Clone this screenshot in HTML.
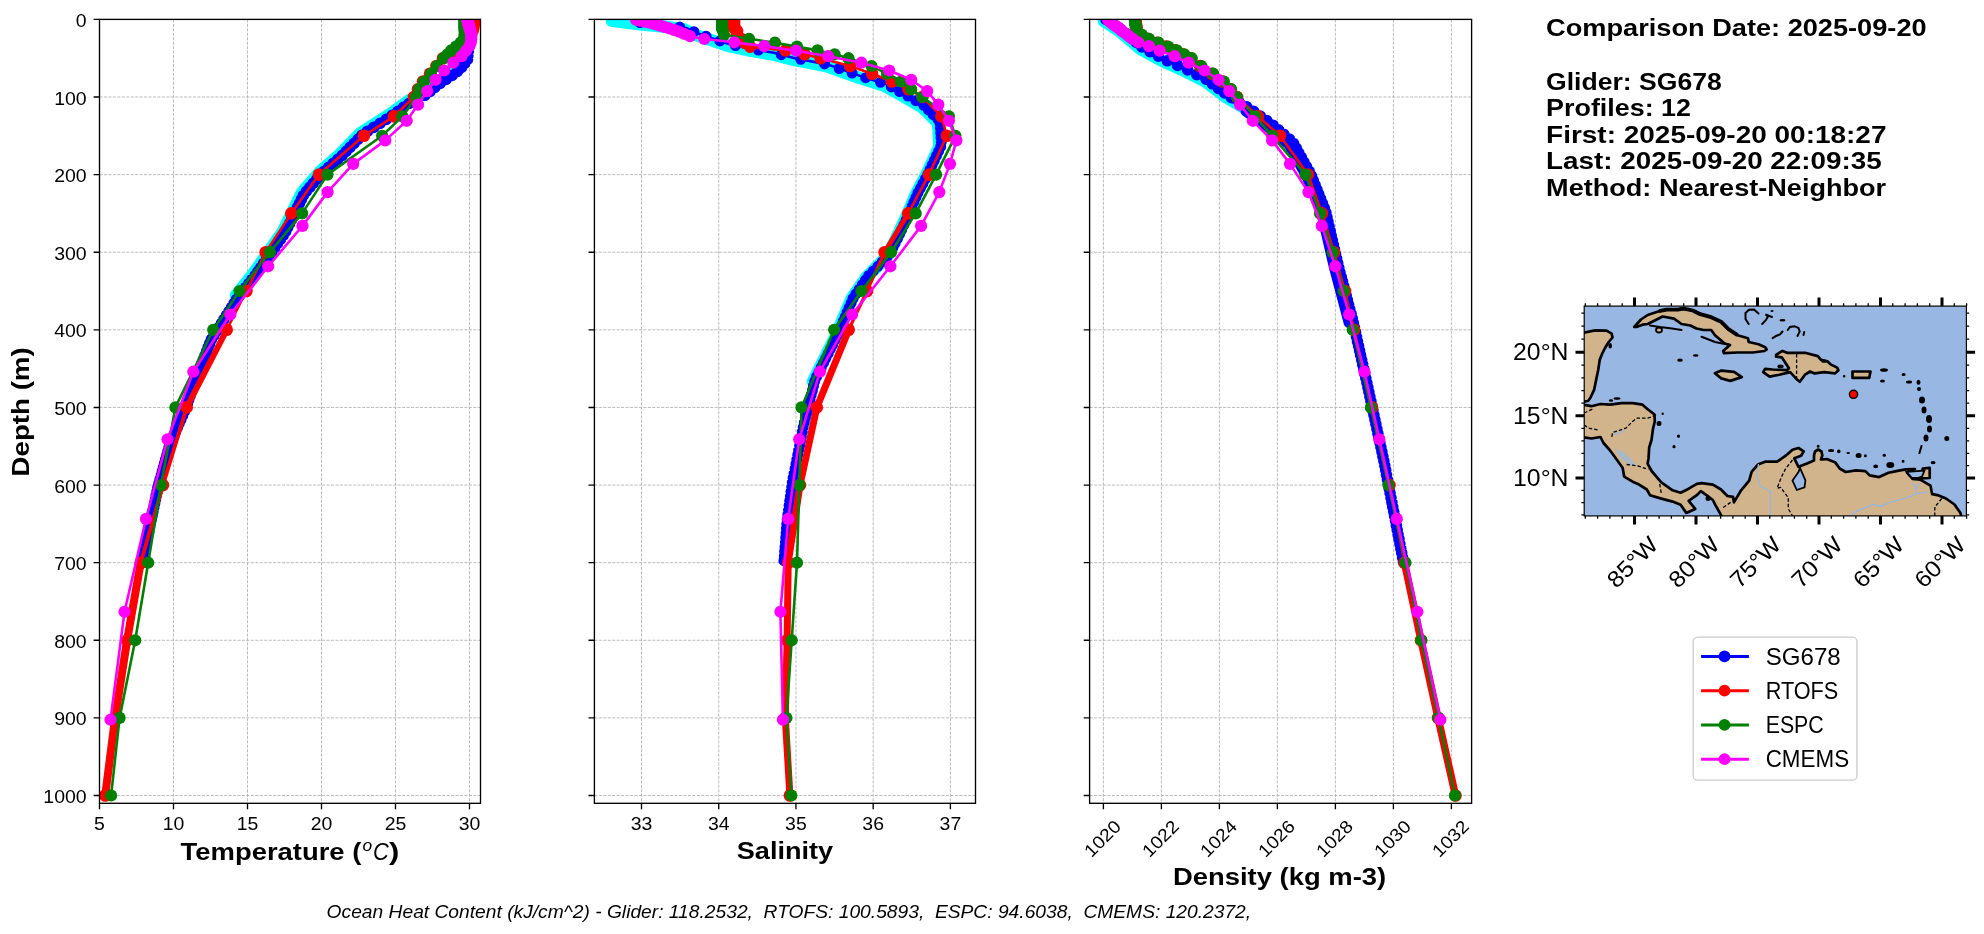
<!DOCTYPE html><html><head><meta charset="utf-8"><style>html,body{margin:0;padding:0;background:#fff;overflow:hidden}svg{display:block;will-change:transform}text{font-family:"Liberation Sans",sans-serif;fill:#000}</style></head><body>
<svg width="1984" height="934" viewBox="0 0 1984 934">
<rect width="1984" height="934" fill="#fff"/>
<defs>
<clipPath id="c0"><rect x="99.5" y="19.4" width="381.0" height="783.9"/></clipPath>
<clipPath id="c1"><rect x="594.4" y="19.4" width="381.1" height="783.9"/></clipPath>
<clipPath id="c2"><rect x="1089.6" y="19.4" width="382.0" height="783.9"/></clipPath>
</defs>
<path d="M99.50,19.4V803.3M173.50,19.4V803.3M247.50,19.4V803.3M321.50,19.4V803.3M395.50,19.4V803.3M469.50,19.4V803.3M99.5,19.40H480.5M99.5,97.01H480.5M99.5,174.62H480.5M99.5,252.23H480.5M99.5,329.84H480.5M99.5,407.45H480.5M99.5,485.06H480.5M99.5,562.67H480.5M99.5,640.28H480.5M99.5,717.89H480.5M99.5,795.50H480.5" stroke="#b0b0b0" stroke-width="0.85" stroke-dasharray="3.1,1.35" fill="none"/>
<g clip-path="url(#c0)">
<polyline points="464.0,17.9 465.0,28.5 466.0,43.5 466.4,49.0 465.4,58.5 457.7,68.2 450.0,74.0 435.6,83.6 424.0,93.3 409.0,100.5 388.0,115.5 361.0,132.7 340.0,154.1 320.5,171.2 302.0,192.5 283.0,231.3 253.0,274.2 236.0,295.5" fill="none" stroke="#00ffff" stroke-width="12.5" stroke-linejoin="round" stroke-linecap="round"/>
<polyline points="466.0,19.4 467.0,30.0 468.0,45.0 468.4,50.5 467.4,60.0 459.7,69.7 452.0,75.5 437.6,85.1 426.0,94.8 411.0,102.0 390.0,117.0 363.0,134.2 342.0,155.6 322.5,172.7 304.0,194.0 285.0,232.8 255.0,275.7 238.0,297.0 211.0,340.0 195.0,381.0 186.0,407.4 170.0,444.2 158.0,487.0 149.0,530.0 141.0,564.0" fill="none" stroke="#0000ff" stroke-width="2.6" stroke-linejoin="round"/>
<path d="M460.2,19.4a5.8,5.8 0 1,0 11.6,0a5.8,5.8 0 1,0 -11.6,0M460.6,23.4a5.8,5.8 0 1,0 11.6,0a5.8,5.8 0 1,0 -11.6,0M461.0,27.4a5.8,5.8 0 1,0 11.6,0a5.8,5.8 0 1,0 -11.6,0M461.3,31.4a5.8,5.8 0 1,0 11.6,0a5.8,5.8 0 1,0 -11.6,0M461.6,35.4a5.8,5.8 0 1,0 11.6,0a5.8,5.8 0 1,0 -11.6,0M461.8,39.4a5.8,5.8 0 1,0 11.6,0a5.8,5.8 0 1,0 -11.6,0M462.1,43.4a5.8,5.8 0 1,0 11.6,0a5.8,5.8 0 1,0 -11.6,0M462.4,47.4a5.8,5.8 0 1,0 11.6,0a5.8,5.8 0 1,0 -11.6,0M462.5,51.4a5.8,5.8 0 1,0 11.6,0a5.8,5.8 0 1,0 -11.6,0M462.1,55.4a5.8,5.8 0 1,0 11.6,0a5.8,5.8 0 1,0 -11.6,0M461.7,59.4a5.8,5.8 0 1,0 11.6,0a5.8,5.8 0 1,0 -11.6,0M458.9,63.4a5.8,5.8 0 1,0 11.6,0a5.8,5.8 0 1,0 -11.6,0M455.7,67.4a5.8,5.8 0 1,0 11.6,0a5.8,5.8 0 1,0 -11.6,0M451.6,71.4a5.8,5.8 0 1,0 11.6,0a5.8,5.8 0 1,0 -11.6,0M446.3,75.4a5.8,5.8 0 1,0 11.6,0a5.8,5.8 0 1,0 -11.6,0M440.3,79.4a5.8,5.8 0 1,0 11.6,0a5.8,5.8 0 1,0 -11.6,0M434.3,83.4a5.8,5.8 0 1,0 11.6,0a5.8,5.8 0 1,0 -11.6,0M429.0,87.4a5.8,5.8 0 1,0 11.6,0a5.8,5.8 0 1,0 -11.6,0M424.3,91.4a5.8,5.8 0 1,0 11.6,0a5.8,5.8 0 1,0 -11.6,0M418.9,95.4a5.8,5.8 0 1,0 11.6,0a5.8,5.8 0 1,0 -11.6,0M410.6,99.4a5.8,5.8 0 1,0 11.6,0a5.8,5.8 0 1,0 -11.6,0M403.2,103.4a5.8,5.8 0 1,0 11.6,0a5.8,5.8 0 1,0 -11.6,0M397.6,107.4a5.8,5.8 0 1,0 11.6,0a5.8,5.8 0 1,0 -11.6,0M392.0,111.4a5.8,5.8 0 1,0 11.6,0a5.8,5.8 0 1,0 -11.6,0M386.4,115.4a5.8,5.8 0 1,0 11.6,0a5.8,5.8 0 1,0 -11.6,0M380.4,119.4a5.8,5.8 0 1,0 11.6,0a5.8,5.8 0 1,0 -11.6,0M374.2,123.4a5.8,5.8 0 1,0 11.6,0a5.8,5.8 0 1,0 -11.6,0M367.9,127.4a5.8,5.8 0 1,0 11.6,0a5.8,5.8 0 1,0 -11.6,0M361.6,131.4a5.8,5.8 0 1,0 11.6,0a5.8,5.8 0 1,0 -11.6,0M356.0,135.4a5.8,5.8 0 1,0 11.6,0a5.8,5.8 0 1,0 -11.6,0M352.1,139.4a5.8,5.8 0 1,0 11.6,0a5.8,5.8 0 1,0 -11.6,0M348.2,143.4a5.8,5.8 0 1,0 11.6,0a5.8,5.8 0 1,0 -11.6,0M344.2,147.4a5.8,5.8 0 1,0 11.6,0a5.8,5.8 0 1,0 -11.6,0M340.3,151.4a5.8,5.8 0 1,0 11.6,0a5.8,5.8 0 1,0 -11.6,0M336.4,155.4a5.8,5.8 0 1,0 11.6,0a5.8,5.8 0 1,0 -11.6,0M331.9,159.4a5.8,5.8 0 1,0 11.6,0a5.8,5.8 0 1,0 -11.6,0M327.3,163.4a5.8,5.8 0 1,0 11.6,0a5.8,5.8 0 1,0 -11.6,0M322.7,167.4a5.8,5.8 0 1,0 11.6,0a5.8,5.8 0 1,0 -11.6,0M318.2,171.4a5.8,5.8 0 1,0 11.6,0a5.8,5.8 0 1,0 -11.6,0M314.4,175.4a5.8,5.8 0 1,0 11.6,0a5.8,5.8 0 1,0 -11.6,0M310.9,179.4a5.8,5.8 0 1,0 11.6,0a5.8,5.8 0 1,0 -11.6,0M307.4,183.4a5.8,5.8 0 1,0 11.6,0a5.8,5.8 0 1,0 -11.6,0M303.9,187.4a5.8,5.8 0 1,0 11.6,0a5.8,5.8 0 1,0 -11.6,0M300.5,191.4a5.8,5.8 0 1,0 11.6,0a5.8,5.8 0 1,0 -11.6,0M297.5,195.4a5.8,5.8 0 1,0 11.6,0a5.8,5.8 0 1,0 -11.6,0M295.6,199.4a5.8,5.8 0 1,0 11.6,0a5.8,5.8 0 1,0 -11.6,0M293.6,203.4a5.8,5.8 0 1,0 11.6,0a5.8,5.8 0 1,0 -11.6,0M291.6,207.4a5.8,5.8 0 1,0 11.6,0a5.8,5.8 0 1,0 -11.6,0M289.7,211.4a5.8,5.8 0 1,0 11.6,0a5.8,5.8 0 1,0 -11.6,0M287.7,215.4a5.8,5.8 0 1,0 11.6,0a5.8,5.8 0 1,0 -11.6,0M285.8,219.4a5.8,5.8 0 1,0 11.6,0a5.8,5.8 0 1,0 -11.6,0M283.8,223.4a5.8,5.8 0 1,0 11.6,0a5.8,5.8 0 1,0 -11.6,0M281.8,227.4a5.8,5.8 0 1,0 11.6,0a5.8,5.8 0 1,0 -11.6,0M279.9,231.4a5.8,5.8 0 1,0 11.6,0a5.8,5.8 0 1,0 -11.6,0M277.4,235.4a5.8,5.8 0 1,0 11.6,0a5.8,5.8 0 1,0 -11.6,0M274.6,239.4a5.8,5.8 0 1,0 11.6,0a5.8,5.8 0 1,0 -11.6,0M271.8,243.4a5.8,5.8 0 1,0 11.6,0a5.8,5.8 0 1,0 -11.6,0M269.0,247.4a5.8,5.8 0 1,0 11.6,0a5.8,5.8 0 1,0 -11.6,0M266.2,251.4a5.8,5.8 0 1,0 11.6,0a5.8,5.8 0 1,0 -11.6,0M263.4,255.4a5.8,5.8 0 1,0 11.6,0a5.8,5.8 0 1,0 -11.6,0M260.6,259.4a5.8,5.8 0 1,0 11.6,0a5.8,5.8 0 1,0 -11.6,0M257.8,263.4a5.8,5.8 0 1,0 11.6,0a5.8,5.8 0 1,0 -11.6,0M255.0,267.4a5.8,5.8 0 1,0 11.6,0a5.8,5.8 0 1,0 -11.6,0M252.2,271.4a5.8,5.8 0 1,0 11.6,0a5.8,5.8 0 1,0 -11.6,0M249.4,275.4a5.8,5.8 0 1,0 11.6,0a5.8,5.8 0 1,0 -11.6,0M246.2,279.4a5.8,5.8 0 1,0 11.6,0a5.8,5.8 0 1,0 -11.6,0M243.1,283.4a5.8,5.8 0 1,0 11.6,0a5.8,5.8 0 1,0 -11.6,0M239.9,287.4a5.8,5.8 0 1,0 11.6,0a5.8,5.8 0 1,0 -11.6,0M236.7,291.4a5.8,5.8 0 1,0 11.6,0a5.8,5.8 0 1,0 -11.6,0M233.5,295.4a5.8,5.8 0 1,0 11.6,0a5.8,5.8 0 1,0 -11.6,0M230.7,299.4a5.8,5.8 0 1,0 11.6,0a5.8,5.8 0 1,0 -11.6,0M228.2,303.4a5.8,5.8 0 1,0 11.6,0a5.8,5.8 0 1,0 -11.6,0M225.7,307.4a5.8,5.8 0 1,0 11.6,0a5.8,5.8 0 1,0 -11.6,0M223.2,311.4a5.8,5.8 0 1,0 11.6,0a5.8,5.8 0 1,0 -11.6,0M220.6,315.4a5.8,5.8 0 1,0 11.6,0a5.8,5.8 0 1,0 -11.6,0M218.1,319.4a5.8,5.8 0 1,0 11.6,0a5.8,5.8 0 1,0 -11.6,0M215.6,323.4a5.8,5.8 0 1,0 11.6,0a5.8,5.8 0 1,0 -11.6,0M213.1,327.4a5.8,5.8 0 1,0 11.6,0a5.8,5.8 0 1,0 -11.6,0M210.6,331.4a5.8,5.8 0 1,0 11.6,0a5.8,5.8 0 1,0 -11.6,0M208.1,335.4a5.8,5.8 0 1,0 11.6,0a5.8,5.8 0 1,0 -11.6,0M205.6,339.4a5.8,5.8 0 1,0 11.6,0a5.8,5.8 0 1,0 -11.6,0M203.9,343.4a5.8,5.8 0 1,0 11.6,0a5.8,5.8 0 1,0 -11.6,0M202.3,347.4a5.8,5.8 0 1,0 11.6,0a5.8,5.8 0 1,0 -11.6,0M200.8,351.4a5.8,5.8 0 1,0 11.6,0a5.8,5.8 0 1,0 -11.6,0M199.2,355.4a5.8,5.8 0 1,0 11.6,0a5.8,5.8 0 1,0 -11.6,0M197.6,359.4a5.8,5.8 0 1,0 11.6,0a5.8,5.8 0 1,0 -11.6,0M196.1,363.4a5.8,5.8 0 1,0 11.6,0a5.8,5.8 0 1,0 -11.6,0M194.5,367.4a5.8,5.8 0 1,0 11.6,0a5.8,5.8 0 1,0 -11.6,0M192.9,371.4a5.8,5.8 0 1,0 11.6,0a5.8,5.8 0 1,0 -11.6,0M191.4,375.4a5.8,5.8 0 1,0 11.6,0a5.8,5.8 0 1,0 -11.6,0M189.8,379.4a5.8,5.8 0 1,0 11.6,0a5.8,5.8 0 1,0 -11.6,0M188.4,383.4a5.8,5.8 0 1,0 11.6,0a5.8,5.8 0 1,0 -11.6,0M187.0,387.4a5.8,5.8 0 1,0 11.6,0a5.8,5.8 0 1,0 -11.6,0M185.7,391.4a5.8,5.8 0 1,0 11.6,0a5.8,5.8 0 1,0 -11.6,0M184.3,395.4a5.8,5.8 0 1,0 11.6,0a5.8,5.8 0 1,0 -11.6,0M182.9,399.4a5.8,5.8 0 1,0 11.6,0a5.8,5.8 0 1,0 -11.6,0M181.6,403.4a5.8,5.8 0 1,0 11.6,0a5.8,5.8 0 1,0 -11.6,0M180.2,407.4a5.8,5.8 0 1,0 11.6,0a5.8,5.8 0 1,0 -11.6,0M178.5,411.4a5.8,5.8 0 1,0 11.6,0a5.8,5.8 0 1,0 -11.6,0M176.7,415.4a5.8,5.8 0 1,0 11.6,0a5.8,5.8 0 1,0 -11.6,0M175.0,419.4a5.8,5.8 0 1,0 11.6,0a5.8,5.8 0 1,0 -11.6,0M173.2,423.4a5.8,5.8 0 1,0 11.6,0a5.8,5.8 0 1,0 -11.6,0M171.5,427.4a5.8,5.8 0 1,0 11.6,0a5.8,5.8 0 1,0 -11.6,0M169.8,431.4a5.8,5.8 0 1,0 11.6,0a5.8,5.8 0 1,0 -11.6,0M168.0,435.4a5.8,5.8 0 1,0 11.6,0a5.8,5.8 0 1,0 -11.6,0M166.3,439.4a5.8,5.8 0 1,0 11.6,0a5.8,5.8 0 1,0 -11.6,0M164.5,443.4a5.8,5.8 0 1,0 11.6,0a5.8,5.8 0 1,0 -11.6,0M163.3,447.4a5.8,5.8 0 1,0 11.6,0a5.8,5.8 0 1,0 -11.6,0M162.2,451.4a5.8,5.8 0 1,0 11.6,0a5.8,5.8 0 1,0 -11.6,0M161.1,455.4a5.8,5.8 0 1,0 11.6,0a5.8,5.8 0 1,0 -11.6,0M159.9,459.4a5.8,5.8 0 1,0 11.6,0a5.8,5.8 0 1,0 -11.6,0M158.8,463.4a5.8,5.8 0 1,0 11.6,0a5.8,5.8 0 1,0 -11.6,0M157.7,467.4a5.8,5.8 0 1,0 11.6,0a5.8,5.8 0 1,0 -11.6,0M156.6,471.4a5.8,5.8 0 1,0 11.6,0a5.8,5.8 0 1,0 -11.6,0M155.5,475.4a5.8,5.8 0 1,0 11.6,0a5.8,5.8 0 1,0 -11.6,0M154.3,479.4a5.8,5.8 0 1,0 11.6,0a5.8,5.8 0 1,0 -11.6,0M153.2,483.4a5.8,5.8 0 1,0 11.6,0a5.8,5.8 0 1,0 -11.6,0M152.1,487.4a5.8,5.8 0 1,0 11.6,0a5.8,5.8 0 1,0 -11.6,0M151.3,491.4a5.8,5.8 0 1,0 11.6,0a5.8,5.8 0 1,0 -11.6,0M150.4,495.4a5.8,5.8 0 1,0 11.6,0a5.8,5.8 0 1,0 -11.6,0M149.6,499.4a5.8,5.8 0 1,0 11.6,0a5.8,5.8 0 1,0 -11.6,0M148.8,503.4a5.8,5.8 0 1,0 11.6,0a5.8,5.8 0 1,0 -11.6,0M147.9,507.4a5.8,5.8 0 1,0 11.6,0a5.8,5.8 0 1,0 -11.6,0M147.1,511.4a5.8,5.8 0 1,0 11.6,0a5.8,5.8 0 1,0 -11.6,0M146.3,515.4a5.8,5.8 0 1,0 11.6,0a5.8,5.8 0 1,0 -11.6,0M145.4,519.4a5.8,5.8 0 1,0 11.6,0a5.8,5.8 0 1,0 -11.6,0M144.6,523.4a5.8,5.8 0 1,0 11.6,0a5.8,5.8 0 1,0 -11.6,0M143.7,527.4a5.8,5.8 0 1,0 11.6,0a5.8,5.8 0 1,0 -11.6,0M142.9,531.4a5.8,5.8 0 1,0 11.6,0a5.8,5.8 0 1,0 -11.6,0M141.9,535.4a5.8,5.8 0 1,0 11.6,0a5.8,5.8 0 1,0 -11.6,0M141.0,539.4a5.8,5.8 0 1,0 11.6,0a5.8,5.8 0 1,0 -11.6,0M140.0,543.4a5.8,5.8 0 1,0 11.6,0a5.8,5.8 0 1,0 -11.6,0M139.1,547.4a5.8,5.8 0 1,0 11.6,0a5.8,5.8 0 1,0 -11.6,0M138.2,551.4a5.8,5.8 0 1,0 11.6,0a5.8,5.8 0 1,0 -11.6,0M137.2,555.4a5.8,5.8 0 1,0 11.6,0a5.8,5.8 0 1,0 -11.6,0M136.3,559.4a5.8,5.8 0 1,0 11.6,0a5.8,5.8 0 1,0 -11.6,0M135.3,563.4a5.8,5.8 0 1,0 11.6,0a5.8,5.8 0 1,0 -11.6,0" fill="#0000ff"/>
<polyline points="474.0,19.4 474.0,21.0 473.8,22.5 473.6,24.1 473.4,25.6 473.2,27.2 473.0,28.7 472.5,31.0 471.0,34.9 467.0,38.8 463.5,42.7 459.0,46.6 454.5,50.4 450.0,54.3 443.0,58.2 436.5,66.0 430.0,73.7 423.0,81.5 418.0,89.2 414.0,97.0 393.9,116.4 363.9,135.8 318.9,174.6 291.3,213.4 265.7,252.2 246.4,291.0 226.7,329.8" fill="none" stroke="#ff0000" stroke-width="2.6" stroke-linejoin="round" stroke-linecap="round"/>
<polyline points="226.7,329.8 186.7,407.4" fill="none" stroke="#ff0000" stroke-width="6" stroke-linejoin="round" stroke-linecap="round"/>
<polyline points="186.7,407.4 163.0,485.1 140.7,562.7" fill="none" stroke="#ff0000" stroke-width="3.8" stroke-linejoin="round" stroke-linecap="round"/>
<polyline points="140.7,562.7 127.1,640.3 115.1,717.9 105.2,795.5" fill="none" stroke="#ff0000" stroke-width="8" stroke-linejoin="round" stroke-linecap="round"/>
<circle cx="474.0" cy="19.4" r="6.3" fill="#ff0000"/>
<circle cx="474.0" cy="21.0" r="6.3" fill="#ff0000"/>
<circle cx="473.8" cy="22.5" r="6.3" fill="#ff0000"/>
<circle cx="473.6" cy="24.1" r="6.3" fill="#ff0000"/>
<circle cx="473.4" cy="25.6" r="6.3" fill="#ff0000"/>
<circle cx="473.2" cy="27.2" r="6.3" fill="#ff0000"/>
<circle cx="473.0" cy="28.7" r="6.3" fill="#ff0000"/>
<circle cx="472.5" cy="31.0" r="6.3" fill="#ff0000"/>
<circle cx="471.0" cy="34.9" r="6.3" fill="#ff0000"/>
<circle cx="467.0" cy="38.8" r="6.3" fill="#ff0000"/>
<circle cx="463.5" cy="42.7" r="6.3" fill="#ff0000"/>
<circle cx="459.0" cy="46.6" r="6.3" fill="#ff0000"/>
<circle cx="454.5" cy="50.4" r="6.3" fill="#ff0000"/>
<circle cx="450.0" cy="54.3" r="6.3" fill="#ff0000"/>
<circle cx="443.0" cy="58.2" r="6.3" fill="#ff0000"/>
<circle cx="436.5" cy="66.0" r="6.3" fill="#ff0000"/>
<circle cx="430.0" cy="73.7" r="6.3" fill="#ff0000"/>
<circle cx="423.0" cy="81.5" r="6.3" fill="#ff0000"/>
<circle cx="418.0" cy="89.2" r="6.3" fill="#ff0000"/>
<circle cx="414.0" cy="97.0" r="6.3" fill="#ff0000"/>
<circle cx="393.9" cy="116.4" r="6.3" fill="#ff0000"/>
<circle cx="363.9" cy="135.8" r="6.3" fill="#ff0000"/>
<circle cx="318.9" cy="174.6" r="6.3" fill="#ff0000"/>
<circle cx="291.3" cy="213.4" r="6.3" fill="#ff0000"/>
<circle cx="265.7" cy="252.2" r="6.3" fill="#ff0000"/>
<circle cx="246.4" cy="291.0" r="6.3" fill="#ff0000"/>
<circle cx="226.7" cy="329.8" r="6.3" fill="#ff0000"/>
<circle cx="186.7" cy="407.4" r="6.3" fill="#ff0000"/>
<circle cx="163.0" cy="485.1" r="6.3" fill="#ff0000"/>
<circle cx="140.7" cy="562.7" r="6.3" fill="#ff0000"/>
<circle cx="127.1" cy="640.3" r="6.3" fill="#ff0000"/>
<circle cx="115.1" cy="717.9" r="6.3" fill="#ff0000"/>
<circle cx="105.2" cy="795.5" r="6.3" fill="#ff0000"/>
<polyline points="464.5,19.4 464.5,21.0 464.5,22.5 464.5,24.1 464.5,25.6 464.5,27.2 464.5,28.7 464.5,31.0 464.5,34.9 463.9,38.8 460.5,42.7 456.0,46.6 451.3,50.4 447.5,54.3 443.5,58.2 437.0,66.0 431.0,73.7 424.0,81.5 419.0,89.2 416.0,97.0 402.4,116.4 382.1,135.8 327.5,174.6 302.1,213.4 269.9,252.2 239.5,291.0 213.2,329.8 175.4,407.4 161.0,485.1 148.2,562.7 135.2,640.3 119.6,717.9 111.1,795.5" fill="none" stroke="#008000" stroke-width="2.6" stroke-linejoin="round"/>
<circle cx="464.5" cy="19.4" r="6.1" fill="#008000"/>
<circle cx="464.5" cy="21.0" r="6.1" fill="#008000"/>
<circle cx="464.5" cy="22.5" r="6.1" fill="#008000"/>
<circle cx="464.5" cy="24.1" r="6.1" fill="#008000"/>
<circle cx="464.5" cy="25.6" r="6.1" fill="#008000"/>
<circle cx="464.5" cy="27.2" r="6.1" fill="#008000"/>
<circle cx="464.5" cy="28.7" r="6.1" fill="#008000"/>
<circle cx="464.5" cy="31.0" r="6.1" fill="#008000"/>
<circle cx="464.5" cy="34.9" r="6.1" fill="#008000"/>
<circle cx="463.9" cy="38.8" r="6.1" fill="#008000"/>
<circle cx="460.5" cy="42.7" r="6.1" fill="#008000"/>
<circle cx="456.0" cy="46.6" r="6.1" fill="#008000"/>
<circle cx="451.3" cy="50.4" r="6.1" fill="#008000"/>
<circle cx="447.5" cy="54.3" r="6.1" fill="#008000"/>
<circle cx="443.5" cy="58.2" r="6.1" fill="#008000"/>
<circle cx="437.0" cy="66.0" r="6.1" fill="#008000"/>
<circle cx="431.0" cy="73.7" r="6.1" fill="#008000"/>
<circle cx="424.0" cy="81.5" r="6.1" fill="#008000"/>
<circle cx="419.0" cy="89.2" r="6.1" fill="#008000"/>
<circle cx="416.0" cy="97.0" r="6.1" fill="#008000"/>
<circle cx="402.4" cy="116.4" r="6.1" fill="#008000"/>
<circle cx="382.1" cy="135.8" r="6.1" fill="#008000"/>
<circle cx="327.5" cy="174.6" r="6.1" fill="#008000"/>
<circle cx="302.1" cy="213.4" r="6.1" fill="#008000"/>
<circle cx="269.9" cy="252.2" r="6.1" fill="#008000"/>
<circle cx="239.5" cy="291.0" r="6.1" fill="#008000"/>
<circle cx="213.2" cy="329.8" r="6.1" fill="#008000"/>
<circle cx="175.4" cy="407.4" r="6.1" fill="#008000"/>
<circle cx="161.0" cy="485.1" r="6.1" fill="#008000"/>
<circle cx="148.2" cy="562.7" r="6.1" fill="#008000"/>
<circle cx="135.2" cy="640.3" r="6.1" fill="#008000"/>
<circle cx="119.6" cy="717.9" r="6.1" fill="#008000"/>
<circle cx="111.1" cy="795.5" r="6.1" fill="#008000"/>
<polyline points="467.5,19.8 467.6,20.6 467.8,21.5 468.0,22.4 468.2,23.3 468.5,24.4 468.8,25.6 469.2,26.8 469.6,28.3 470.0,29.9 470.5,31.7 471.0,33.8 471.3,36.2 471.3,39.0 470.8,42.3 469.5,46.1 466.0,50.7 461.5,56.2 453.3,62.7 444.2,70.5 435.6,79.8 427.2,91.1 418.1,104.6 406.7,120.8 385.3,140.4 353.2,163.9 327.6,192.1 302.5,225.9 268.2,266.3 230.3,314.5 193.3,371.7 167.5,439.3 146.0,518.9 124.5,611.8 110.5,719.7" fill="none" stroke="#ff00ff" stroke-width="2.6" stroke-linejoin="round"/>
<circle cx="467.5" cy="19.8" r="6.1" fill="#ff00ff"/>
<circle cx="467.6" cy="20.6" r="6.1" fill="#ff00ff"/>
<circle cx="467.8" cy="21.5" r="6.1" fill="#ff00ff"/>
<circle cx="468.0" cy="22.4" r="6.1" fill="#ff00ff"/>
<circle cx="468.2" cy="23.3" r="6.1" fill="#ff00ff"/>
<circle cx="468.5" cy="24.4" r="6.1" fill="#ff00ff"/>
<circle cx="468.8" cy="25.6" r="6.1" fill="#ff00ff"/>
<circle cx="469.2" cy="26.8" r="6.1" fill="#ff00ff"/>
<circle cx="469.6" cy="28.3" r="6.1" fill="#ff00ff"/>
<circle cx="470.0" cy="29.9" r="6.1" fill="#ff00ff"/>
<circle cx="470.5" cy="31.7" r="6.1" fill="#ff00ff"/>
<circle cx="471.0" cy="33.8" r="6.1" fill="#ff00ff"/>
<circle cx="471.3" cy="36.2" r="6.1" fill="#ff00ff"/>
<circle cx="471.3" cy="39.0" r="6.1" fill="#ff00ff"/>
<circle cx="470.8" cy="42.3" r="6.1" fill="#ff00ff"/>
<circle cx="469.5" cy="46.1" r="6.1" fill="#ff00ff"/>
<circle cx="466.0" cy="50.7" r="6.1" fill="#ff00ff"/>
<circle cx="461.5" cy="56.2" r="6.1" fill="#ff00ff"/>
<circle cx="453.3" cy="62.7" r="6.1" fill="#ff00ff"/>
<circle cx="444.2" cy="70.5" r="6.1" fill="#ff00ff"/>
<circle cx="435.6" cy="79.8" r="6.1" fill="#ff00ff"/>
<circle cx="427.2" cy="91.1" r="6.1" fill="#ff00ff"/>
<circle cx="418.1" cy="104.6" r="6.1" fill="#ff00ff"/>
<circle cx="406.7" cy="120.8" r="6.1" fill="#ff00ff"/>
<circle cx="385.3" cy="140.4" r="6.1" fill="#ff00ff"/>
<circle cx="353.2" cy="163.9" r="6.1" fill="#ff00ff"/>
<circle cx="327.6" cy="192.1" r="6.1" fill="#ff00ff"/>
<circle cx="302.5" cy="225.9" r="6.1" fill="#ff00ff"/>
<circle cx="268.2" cy="266.3" r="6.1" fill="#ff00ff"/>
<circle cx="230.3" cy="314.5" r="6.1" fill="#ff00ff"/>
<circle cx="193.3" cy="371.7" r="6.1" fill="#ff00ff"/>
<circle cx="167.5" cy="439.3" r="6.1" fill="#ff00ff"/>
<circle cx="146.0" cy="518.9" r="6.1" fill="#ff00ff"/>
<circle cx="124.5" cy="611.8" r="6.1" fill="#ff00ff"/>
<circle cx="110.5" cy="719.7" r="6.1" fill="#ff00ff"/>
</g>
<rect x="99.5" y="19.4" width="381.0" height="783.9" fill="none" stroke="#000" stroke-width="1.35"/>
<path d="M99.50,803.3v5.9M173.50,803.3v5.9M247.50,803.3v5.9M321.50,803.3v5.9M395.50,803.3v5.9M469.50,803.3v5.9M99.5,19.40h-5.9M99.5,97.01h-5.9M99.5,174.62h-5.9M99.5,252.23h-5.9M99.5,329.84h-5.9M99.5,407.45h-5.9M99.5,485.06h-5.9M99.5,562.67h-5.9M99.5,640.28h-5.9M99.5,717.89h-5.9M99.5,795.50h-5.9" stroke="#000" stroke-width="1.35" fill="none"/>
<text x="86.60" y="26.90" font-size="17.85" text-anchor="end" textLength="10.82" lengthAdjust="spacingAndGlyphs" >0</text>
<text x="86.60" y="104.51" font-size="17.85" text-anchor="end" textLength="32.45" lengthAdjust="spacingAndGlyphs" >100</text>
<text x="86.60" y="182.12" font-size="17.85" text-anchor="end" textLength="32.45" lengthAdjust="spacingAndGlyphs" >200</text>
<text x="86.60" y="259.73" font-size="17.85" text-anchor="end" textLength="32.45" lengthAdjust="spacingAndGlyphs" >300</text>
<text x="86.60" y="337.34" font-size="17.85" text-anchor="end" textLength="32.45" lengthAdjust="spacingAndGlyphs" >400</text>
<text x="86.60" y="414.95" font-size="17.85" text-anchor="end" textLength="32.45" lengthAdjust="spacingAndGlyphs" >500</text>
<text x="86.60" y="492.56" font-size="17.85" text-anchor="end" textLength="32.45" lengthAdjust="spacingAndGlyphs" >600</text>
<text x="86.60" y="570.17" font-size="17.85" text-anchor="end" textLength="32.45" lengthAdjust="spacingAndGlyphs" >700</text>
<text x="86.60" y="647.78" font-size="17.85" text-anchor="end" textLength="32.45" lengthAdjust="spacingAndGlyphs" >800</text>
<text x="86.60" y="725.39" font-size="17.85" text-anchor="end" textLength="32.45" lengthAdjust="spacingAndGlyphs" >900</text>
<text x="86.60" y="803.00" font-size="17.85" text-anchor="end" textLength="43.26" lengthAdjust="spacingAndGlyphs" >1000</text>
<text x="99.50" y="830.00" font-size="17.85" text-anchor="middle" textLength="10.82" lengthAdjust="spacingAndGlyphs" >5</text>
<text x="173.50" y="830.00" font-size="17.85" text-anchor="middle" textLength="21.63" lengthAdjust="spacingAndGlyphs" >10</text>
<text x="247.50" y="830.00" font-size="17.85" text-anchor="middle" textLength="21.63" lengthAdjust="spacingAndGlyphs" >15</text>
<text x="321.50" y="830.00" font-size="17.85" text-anchor="middle" textLength="21.63" lengthAdjust="spacingAndGlyphs" >20</text>
<text x="395.50" y="830.00" font-size="17.85" text-anchor="middle" textLength="21.63" lengthAdjust="spacingAndGlyphs" >25</text>
<text x="469.50" y="830.00" font-size="17.85" text-anchor="middle" textLength="21.63" lengthAdjust="spacingAndGlyphs" >30</text>
<path d="M641.50,19.4V803.3M718.73,19.4V803.3M795.95,19.4V803.3M873.17,19.4V803.3M950.40,19.4V803.3M594.4,19.40H975.5M594.4,97.01H975.5M594.4,174.62H975.5M594.4,252.23H975.5M594.4,329.84H975.5M594.4,407.45H975.5M594.4,485.06H975.5M594.4,562.67H975.5M594.4,640.28H975.5M594.4,717.89H975.5M594.4,795.50H975.5" stroke="#b0b0b0" stroke-width="0.85" stroke-dasharray="3.1,1.35" fill="none"/>
<g clip-path="url(#c1)">
<polyline points="612.0,20.9 638.0,24.0 663.0,26.5 684.0,29.5 695.9,35.1 711.9,40.4 728.0,45.8 747.2,50.0 771.9,54.3 793.0,59.7 826.2,66.1 859.4,77.9 884.0,85.5 904.0,96.5 922.0,107.0 938.0,122.9 939.5,146.5 925.8,175.8 915.6,195.0 906.5,216.5 894.8,241.5 887.0,256.5 866.6,277.2 851.6,298.6 835.5,336.5 813.0,381.5" fill="none" stroke="#00ffff" stroke-width="12.5" stroke-linejoin="round" stroke-linecap="round"/>
<polyline points="640.0,22.5 665.0,25.0 686.0,28.0 697.9,33.6 713.9,38.9 730.0,44.3 749.2,48.5 773.9,52.8 795.0,58.2 828.2,64.6 861.4,76.4 886.0,84.0 906.0,95.0 924.0,105.5 940.0,121.4 941.5,145.0 927.8,174.3 917.6,193.5 908.5,215.0 896.8,240.0 889.0,255.0 868.6,275.7 853.6,297.1 837.5,335.0 815.0,380.0 803.7,425.0 792.5,481.0 787.1,520.0 783.6,565.0" fill="none" stroke="#0000ff" stroke-width="2.6" stroke-linejoin="round"/>
<path d="M634.5,22.5a5.5,5.5 0 1,0 11.0,0a5.5,5.5 0 1,0 -11.0,0M674.2,27.1a5.5,5.5 0 1,0 11.0,0a5.5,5.5 0 1,0 -11.0,0M688.4,31.7a5.5,5.5 0 1,0 11.0,0a5.5,5.5 0 1,0 -11.0,0M700.6,36.3a5.5,5.5 0 1,0 11.0,0a5.5,5.5 0 1,0 -11.0,0M714.4,40.9a5.5,5.5 0 1,0 11.0,0a5.5,5.5 0 1,0 -11.0,0M730.0,45.5a5.5,5.5 0 1,0 11.0,0a5.5,5.5 0 1,0 -11.0,0M752.9,50.1a5.5,5.5 0 1,0 11.0,0a5.5,5.5 0 1,0 -11.0,0M775.8,54.7a5.5,5.5 0 1,0 11.0,0a5.5,5.5 0 1,0 -11.0,0M795.2,59.3a5.5,5.5 0 1,0 11.0,0a5.5,5.5 0 1,0 -11.0,0M819.1,63.9a5.5,5.5 0 1,0 11.0,0a5.5,5.5 0 1,0 -11.0,0M833.7,68.5a5.5,5.5 0 1,0 11.0,0a5.5,5.5 0 1,0 -11.0,0M846.6,73.1a5.5,5.5 0 1,0 11.0,0a5.5,5.5 0 1,0 -11.0,0M860.1,77.7a5.5,5.5 0 1,0 11.0,0a5.5,5.5 0 1,0 -11.0,0M875.0,82.3a5.5,5.5 0 1,0 11.0,0a5.5,5.5 0 1,0 -11.0,0M885.8,86.9a5.5,5.5 0 1,0 11.0,0a5.5,5.5 0 1,0 -11.0,0M894.1,91.5a5.5,5.5 0 1,0 11.0,0a5.5,5.5 0 1,0 -11.0,0M902.4,96.1a5.5,5.5 0 1,0 11.0,0a5.5,5.5 0 1,0 -11.0,0M910.3,100.7a5.5,5.5 0 1,0 11.0,0a5.5,5.5 0 1,0 -11.0,0M918.2,105.3a5.5,5.5 0 1,0 11.0,0a5.5,5.5 0 1,0 -11.0,0M922.9,109.9a5.5,5.5 0 1,0 11.0,0a5.5,5.5 0 1,0 -11.0,0M927.6,114.5a5.5,5.5 0 1,0 11.0,0a5.5,5.5 0 1,0 -11.0,0M932.2,119.1a5.5,5.5 0 1,0 11.0,0a5.5,5.5 0 1,0 -11.0,0M934.6,123.7a5.5,5.5 0 1,0 11.0,0a5.5,5.5 0 1,0 -11.0,0M934.9,128.3a5.5,5.5 0 1,0 11.0,0a5.5,5.5 0 1,0 -11.0,0M935.2,132.9a5.5,5.5 0 1,0 11.0,0a5.5,5.5 0 1,0 -11.0,0M935.5,137.5a5.5,5.5 0 1,0 11.0,0a5.5,5.5 0 1,0 -11.0,0M935.8,142.1a5.5,5.5 0 1,0 11.0,0a5.5,5.5 0 1,0 -11.0,0M935.2,146.7a5.5,5.5 0 1,0 11.0,0a5.5,5.5 0 1,0 -11.0,0M933.1,151.3a5.5,5.5 0 1,0 11.0,0a5.5,5.5 0 1,0 -11.0,0M930.9,155.9a5.5,5.5 0 1,0 11.0,0a5.5,5.5 0 1,0 -11.0,0M928.8,160.5a5.5,5.5 0 1,0 11.0,0a5.5,5.5 0 1,0 -11.0,0M926.6,165.1a5.5,5.5 0 1,0 11.0,0a5.5,5.5 0 1,0 -11.0,0M924.5,169.7a5.5,5.5 0 1,0 11.0,0a5.5,5.5 0 1,0 -11.0,0M922.3,174.3a5.5,5.5 0 1,0 11.0,0a5.5,5.5 0 1,0 -11.0,0M919.9,178.9a5.5,5.5 0 1,0 11.0,0a5.5,5.5 0 1,0 -11.0,0M917.4,183.5a5.5,5.5 0 1,0 11.0,0a5.5,5.5 0 1,0 -11.0,0M915.0,188.1a5.5,5.5 0 1,0 11.0,0a5.5,5.5 0 1,0 -11.0,0M912.5,192.7a5.5,5.5 0 1,0 11.0,0a5.5,5.5 0 1,0 -11.0,0M910.5,197.3a5.5,5.5 0 1,0 11.0,0a5.5,5.5 0 1,0 -11.0,0M908.5,201.9a5.5,5.5 0 1,0 11.0,0a5.5,5.5 0 1,0 -11.0,0M906.6,206.5a5.5,5.5 0 1,0 11.0,0a5.5,5.5 0 1,0 -11.0,0M904.7,211.1a5.5,5.5 0 1,0 11.0,0a5.5,5.5 0 1,0 -11.0,0M902.7,215.7a5.5,5.5 0 1,0 11.0,0a5.5,5.5 0 1,0 -11.0,0M900.5,220.3a5.5,5.5 0 1,0 11.0,0a5.5,5.5 0 1,0 -11.0,0M898.4,224.9a5.5,5.5 0 1,0 11.0,0a5.5,5.5 0 1,0 -11.0,0M896.2,229.5a5.5,5.5 0 1,0 11.0,0a5.5,5.5 0 1,0 -11.0,0M894.1,234.1a5.5,5.5 0 1,0 11.0,0a5.5,5.5 0 1,0 -11.0,0M891.9,238.7a5.5,5.5 0 1,0 11.0,0a5.5,5.5 0 1,0 -11.0,0M889.6,243.3a5.5,5.5 0 1,0 11.0,0a5.5,5.5 0 1,0 -11.0,0M887.2,247.9a5.5,5.5 0 1,0 11.0,0a5.5,5.5 0 1,0 -11.0,0M884.8,252.5a5.5,5.5 0 1,0 11.0,0a5.5,5.5 0 1,0 -11.0,0M881.4,257.1a5.5,5.5 0 1,0 11.0,0a5.5,5.5 0 1,0 -11.0,0M876.9,261.7a5.5,5.5 0 1,0 11.0,0a5.5,5.5 0 1,0 -11.0,0M872.4,266.3a5.5,5.5 0 1,0 11.0,0a5.5,5.5 0 1,0 -11.0,0M867.8,270.9a5.5,5.5 0 1,0 11.0,0a5.5,5.5 0 1,0 -11.0,0M863.3,275.5a5.5,5.5 0 1,0 11.0,0a5.5,5.5 0 1,0 -11.0,0M860.0,280.1a5.5,5.5 0 1,0 11.0,0a5.5,5.5 0 1,0 -11.0,0M856.8,284.7a5.5,5.5 0 1,0 11.0,0a5.5,5.5 0 1,0 -11.0,0M853.6,289.3a5.5,5.5 0 1,0 11.0,0a5.5,5.5 0 1,0 -11.0,0M850.3,293.9a5.5,5.5 0 1,0 11.0,0a5.5,5.5 0 1,0 -11.0,0M847.5,298.5a5.5,5.5 0 1,0 11.0,0a5.5,5.5 0 1,0 -11.0,0M845.6,303.1a5.5,5.5 0 1,0 11.0,0a5.5,5.5 0 1,0 -11.0,0M843.6,307.7a5.5,5.5 0 1,0 11.0,0a5.5,5.5 0 1,0 -11.0,0M841.6,312.3a5.5,5.5 0 1,0 11.0,0a5.5,5.5 0 1,0 -11.0,0M839.7,316.9a5.5,5.5 0 1,0 11.0,0a5.5,5.5 0 1,0 -11.0,0M837.7,321.5a5.5,5.5 0 1,0 11.0,0a5.5,5.5 0 1,0 -11.0,0M835.8,326.1a5.5,5.5 0 1,0 11.0,0a5.5,5.5 0 1,0 -11.0,0M833.8,330.7a5.5,5.5 0 1,0 11.0,0a5.5,5.5 0 1,0 -11.0,0M831.8,335.3a5.5,5.5 0 1,0 11.0,0a5.5,5.5 0 1,0 -11.0,0M829.5,339.9a5.5,5.5 0 1,0 11.0,0a5.5,5.5 0 1,0 -11.0,0M827.2,344.5a5.5,5.5 0 1,0 11.0,0a5.5,5.5 0 1,0 -11.0,0M824.9,349.1a5.5,5.5 0 1,0 11.0,0a5.5,5.5 0 1,0 -11.0,0M822.6,353.7a5.5,5.5 0 1,0 11.0,0a5.5,5.5 0 1,0 -11.0,0M820.3,358.3a5.5,5.5 0 1,0 11.0,0a5.5,5.5 0 1,0 -11.0,0M818.0,362.9a5.5,5.5 0 1,0 11.0,0a5.5,5.5 0 1,0 -11.0,0M815.7,367.5a5.5,5.5 0 1,0 11.0,0a5.5,5.5 0 1,0 -11.0,0M813.4,372.1a5.5,5.5 0 1,0 11.0,0a5.5,5.5 0 1,0 -11.0,0M811.1,376.7a5.5,5.5 0 1,0 11.0,0a5.5,5.5 0 1,0 -11.0,0M809.2,381.3a5.5,5.5 0 1,0 11.0,0a5.5,5.5 0 1,0 -11.0,0M808.0,385.9a5.5,5.5 0 1,0 11.0,0a5.5,5.5 0 1,0 -11.0,0M806.9,390.5a5.5,5.5 0 1,0 11.0,0a5.5,5.5 0 1,0 -11.0,0M805.7,395.1a5.5,5.5 0 1,0 11.0,0a5.5,5.5 0 1,0 -11.0,0M804.6,399.7a5.5,5.5 0 1,0 11.0,0a5.5,5.5 0 1,0 -11.0,0M803.4,404.3a5.5,5.5 0 1,0 11.0,0a5.5,5.5 0 1,0 -11.0,0M802.2,408.9a5.5,5.5 0 1,0 11.0,0a5.5,5.5 0 1,0 -11.0,0M801.1,413.5a5.5,5.5 0 1,0 11.0,0a5.5,5.5 0 1,0 -11.0,0M799.9,418.1a5.5,5.5 0 1,0 11.0,0a5.5,5.5 0 1,0 -11.0,0M798.8,422.7a5.5,5.5 0 1,0 11.0,0a5.5,5.5 0 1,0 -11.0,0M797.7,427.3a5.5,5.5 0 1,0 11.0,0a5.5,5.5 0 1,0 -11.0,0M796.8,431.9a5.5,5.5 0 1,0 11.0,0a5.5,5.5 0 1,0 -11.0,0M795.9,436.5a5.5,5.5 0 1,0 11.0,0a5.5,5.5 0 1,0 -11.0,0M795.0,441.1a5.5,5.5 0 1,0 11.0,0a5.5,5.5 0 1,0 -11.0,0M794.1,445.7a5.5,5.5 0 1,0 11.0,0a5.5,5.5 0 1,0 -11.0,0M793.1,450.3a5.5,5.5 0 1,0 11.0,0a5.5,5.5 0 1,0 -11.0,0M792.2,454.9a5.5,5.5 0 1,0 11.0,0a5.5,5.5 0 1,0 -11.0,0M791.3,459.5a5.5,5.5 0 1,0 11.0,0a5.5,5.5 0 1,0 -11.0,0M790.4,464.1a5.5,5.5 0 1,0 11.0,0a5.5,5.5 0 1,0 -11.0,0M789.5,468.7a5.5,5.5 0 1,0 11.0,0a5.5,5.5 0 1,0 -11.0,0M788.5,473.3a5.5,5.5 0 1,0 11.0,0a5.5,5.5 0 1,0 -11.0,0M787.6,477.9a5.5,5.5 0 1,0 11.0,0a5.5,5.5 0 1,0 -11.0,0M786.8,482.5a5.5,5.5 0 1,0 11.0,0a5.5,5.5 0 1,0 -11.0,0M786.2,487.1a5.5,5.5 0 1,0 11.0,0a5.5,5.5 0 1,0 -11.0,0M785.5,491.7a5.5,5.5 0 1,0 11.0,0a5.5,5.5 0 1,0 -11.0,0M784.9,496.3a5.5,5.5 0 1,0 11.0,0a5.5,5.5 0 1,0 -11.0,0M784.2,500.9a5.5,5.5 0 1,0 11.0,0a5.5,5.5 0 1,0 -11.0,0M783.6,505.5a5.5,5.5 0 1,0 11.0,0a5.5,5.5 0 1,0 -11.0,0M783.0,510.1a5.5,5.5 0 1,0 11.0,0a5.5,5.5 0 1,0 -11.0,0M782.3,514.7a5.5,5.5 0 1,0 11.0,0a5.5,5.5 0 1,0 -11.0,0M781.7,519.3a5.5,5.5 0 1,0 11.0,0a5.5,5.5 0 1,0 -11.0,0M781.3,523.9a5.5,5.5 0 1,0 11.0,0a5.5,5.5 0 1,0 -11.0,0M780.9,528.5a5.5,5.5 0 1,0 11.0,0a5.5,5.5 0 1,0 -11.0,0M780.6,533.1a5.5,5.5 0 1,0 11.0,0a5.5,5.5 0 1,0 -11.0,0M780.2,537.7a5.5,5.5 0 1,0 11.0,0a5.5,5.5 0 1,0 -11.0,0M779.9,542.3a5.5,5.5 0 1,0 11.0,0a5.5,5.5 0 1,0 -11.0,0M779.5,546.9a5.5,5.5 0 1,0 11.0,0a5.5,5.5 0 1,0 -11.0,0M779.1,551.5a5.5,5.5 0 1,0 11.0,0a5.5,5.5 0 1,0 -11.0,0M778.8,556.1a5.5,5.5 0 1,0 11.0,0a5.5,5.5 0 1,0 -11.0,0M778.4,560.7a5.5,5.5 0 1,0 11.0,0a5.5,5.5 0 1,0 -11.0,0" fill="#0000ff"/>
<polyline points="734.0,19.4 734.0,21.0 734.0,22.5 734.0,24.1 734.0,25.6 734.0,27.2 735.0,28.7 737.0,31.0 737.0,34.9 741.0,38.8 745.0,42.7 750.0,46.6 785.5,50.4 804.6,54.3 820.7,58.2 850.1,66.0 872.1,73.7 891.9,81.5 908.5,89.2 922.4,97.0 941.4,116.4 946.8,135.8 929.0,174.6 908.2,213.4" fill="none" stroke="#ff0000" stroke-width="2.6" stroke-linejoin="round" stroke-linecap="round"/>
<polyline points="908.2,213.4 884.6,252.2" fill="none" stroke="#ff0000" stroke-width="5" stroke-linejoin="round" stroke-linecap="round"/>
<polyline points="884.6,252.2 867.0,291.0 848.7,329.8" fill="none" stroke="#ff0000" stroke-width="3.2" stroke-linejoin="round" stroke-linecap="round"/>
<polyline points="848.7,329.8 816.8,407.4 800.0,485.1 788.2,562.7 787.1,640.3 785.3,717.9 789.9,795.5" fill="none" stroke="#ff0000" stroke-width="7" stroke-linejoin="round" stroke-linecap="round"/>
<circle cx="734.0" cy="19.4" r="6.3" fill="#ff0000"/>
<circle cx="734.0" cy="21.0" r="6.3" fill="#ff0000"/>
<circle cx="734.0" cy="22.5" r="6.3" fill="#ff0000"/>
<circle cx="734.0" cy="24.1" r="6.3" fill="#ff0000"/>
<circle cx="734.0" cy="25.6" r="6.3" fill="#ff0000"/>
<circle cx="734.0" cy="27.2" r="6.3" fill="#ff0000"/>
<circle cx="735.0" cy="28.7" r="6.3" fill="#ff0000"/>
<circle cx="737.0" cy="31.0" r="6.3" fill="#ff0000"/>
<circle cx="737.0" cy="34.9" r="6.3" fill="#ff0000"/>
<circle cx="741.0" cy="38.8" r="6.3" fill="#ff0000"/>
<circle cx="745.0" cy="42.7" r="6.3" fill="#ff0000"/>
<circle cx="750.0" cy="46.6" r="6.3" fill="#ff0000"/>
<circle cx="785.5" cy="50.4" r="6.3" fill="#ff0000"/>
<circle cx="804.6" cy="54.3" r="6.3" fill="#ff0000"/>
<circle cx="820.7" cy="58.2" r="6.3" fill="#ff0000"/>
<circle cx="850.1" cy="66.0" r="6.3" fill="#ff0000"/>
<circle cx="872.1" cy="73.7" r="6.3" fill="#ff0000"/>
<circle cx="891.9" cy="81.5" r="6.3" fill="#ff0000"/>
<circle cx="908.5" cy="89.2" r="6.3" fill="#ff0000"/>
<circle cx="922.4" cy="97.0" r="6.3" fill="#ff0000"/>
<circle cx="941.4" cy="116.4" r="6.3" fill="#ff0000"/>
<circle cx="946.8" cy="135.8" r="6.3" fill="#ff0000"/>
<circle cx="929.0" cy="174.6" r="6.3" fill="#ff0000"/>
<circle cx="908.2" cy="213.4" r="6.3" fill="#ff0000"/>
<circle cx="884.6" cy="252.2" r="6.3" fill="#ff0000"/>
<circle cx="867.0" cy="291.0" r="6.3" fill="#ff0000"/>
<circle cx="848.7" cy="329.8" r="6.3" fill="#ff0000"/>
<circle cx="816.8" cy="407.4" r="6.3" fill="#ff0000"/>
<circle cx="800.0" cy="485.1" r="6.3" fill="#ff0000"/>
<circle cx="788.2" cy="562.7" r="6.3" fill="#ff0000"/>
<circle cx="787.1" cy="640.3" r="6.3" fill="#ff0000"/>
<circle cx="785.3" cy="717.9" r="6.3" fill="#ff0000"/>
<circle cx="789.9" cy="795.5" r="6.3" fill="#ff0000"/>
<polyline points="722.0,19.4 722.0,21.0 722.0,22.5 722.0,24.1 722.0,25.6 722.0,27.2 722.0,28.7 723.0,31.0 724.0,34.9 749.0,38.8 775.0,42.7 797.0,46.6 817.5,50.4 834.6,54.3 848.5,58.2 871.5,66.0 887.0,73.7 901.0,81.5 911.2,89.2 922.4,97.0 948.9,116.4 955.4,135.8 936.1,174.6 915.7,213.4 891.1,252.2 861.4,291.0 834.1,329.8 801.5,407.4 799.3,485.1 797.0,562.7 791.7,640.3 786.4,717.9 791.3,795.5" fill="none" stroke="#008000" stroke-width="2.6" stroke-linejoin="round"/>
<circle cx="722.0" cy="19.4" r="6.1" fill="#008000"/>
<circle cx="722.0" cy="21.0" r="6.1" fill="#008000"/>
<circle cx="722.0" cy="22.5" r="6.1" fill="#008000"/>
<circle cx="722.0" cy="24.1" r="6.1" fill="#008000"/>
<circle cx="722.0" cy="25.6" r="6.1" fill="#008000"/>
<circle cx="722.0" cy="27.2" r="6.1" fill="#008000"/>
<circle cx="722.0" cy="28.7" r="6.1" fill="#008000"/>
<circle cx="723.0" cy="31.0" r="6.1" fill="#008000"/>
<circle cx="724.0" cy="34.9" r="6.1" fill="#008000"/>
<circle cx="749.0" cy="38.8" r="6.1" fill="#008000"/>
<circle cx="775.0" cy="42.7" r="6.1" fill="#008000"/>
<circle cx="797.0" cy="46.6" r="6.1" fill="#008000"/>
<circle cx="817.5" cy="50.4" r="6.1" fill="#008000"/>
<circle cx="834.6" cy="54.3" r="6.1" fill="#008000"/>
<circle cx="848.5" cy="58.2" r="6.1" fill="#008000"/>
<circle cx="871.5" cy="66.0" r="6.1" fill="#008000"/>
<circle cx="887.0" cy="73.7" r="6.1" fill="#008000"/>
<circle cx="901.0" cy="81.5" r="6.1" fill="#008000"/>
<circle cx="911.2" cy="89.2" r="6.1" fill="#008000"/>
<circle cx="922.4" cy="97.0" r="6.1" fill="#008000"/>
<circle cx="948.9" cy="116.4" r="6.1" fill="#008000"/>
<circle cx="955.4" cy="135.8" r="6.1" fill="#008000"/>
<circle cx="936.1" cy="174.6" r="6.1" fill="#008000"/>
<circle cx="915.7" cy="213.4" r="6.1" fill="#008000"/>
<circle cx="891.1" cy="252.2" r="6.1" fill="#008000"/>
<circle cx="861.4" cy="291.0" r="6.1" fill="#008000"/>
<circle cx="834.1" cy="329.8" r="6.1" fill="#008000"/>
<circle cx="801.5" cy="407.4" r="6.1" fill="#008000"/>
<circle cx="799.3" cy="485.1" r="6.1" fill="#008000"/>
<circle cx="797.0" cy="562.7" r="6.1" fill="#008000"/>
<circle cx="791.7" cy="640.3" r="6.1" fill="#008000"/>
<circle cx="786.4" cy="717.9" r="6.1" fill="#008000"/>
<circle cx="791.3" cy="795.5" r="6.1" fill="#008000"/>
<polyline points="636.0,19.8 640.0,20.6 644.0,21.5 648.0,22.4 652.0,23.3 656.0,24.4 660.0,25.6 664.0,26.8 669.0,28.3 674.0,29.9 679.0,31.7 684.0,33.8 690.0,36.2 704.3,39.0 734.3,42.3 764.2,46.1 796.1,50.7 828.2,56.2 861.4,62.7 889.2,70.5 911.2,79.8 927.2,91.1 938.3,104.6 948.9,120.8 956.4,140.4 950.0,163.9 939.3,192.1 921.1,225.9 890.4,266.3 852.1,314.5 819.9,371.7 799.2,439.3 788.2,518.9 780.4,611.8 782.9,719.7" fill="none" stroke="#ff00ff" stroke-width="2.6" stroke-linejoin="round"/>
<circle cx="636.0" cy="19.8" r="6.1" fill="#ff00ff"/>
<circle cx="640.0" cy="20.6" r="6.1" fill="#ff00ff"/>
<circle cx="644.0" cy="21.5" r="6.1" fill="#ff00ff"/>
<circle cx="648.0" cy="22.4" r="6.1" fill="#ff00ff"/>
<circle cx="652.0" cy="23.3" r="6.1" fill="#ff00ff"/>
<circle cx="656.0" cy="24.4" r="6.1" fill="#ff00ff"/>
<circle cx="660.0" cy="25.6" r="6.1" fill="#ff00ff"/>
<circle cx="664.0" cy="26.8" r="6.1" fill="#ff00ff"/>
<circle cx="669.0" cy="28.3" r="6.1" fill="#ff00ff"/>
<circle cx="674.0" cy="29.9" r="6.1" fill="#ff00ff"/>
<circle cx="679.0" cy="31.7" r="6.1" fill="#ff00ff"/>
<circle cx="684.0" cy="33.8" r="6.1" fill="#ff00ff"/>
<circle cx="690.0" cy="36.2" r="6.1" fill="#ff00ff"/>
<circle cx="704.3" cy="39.0" r="6.1" fill="#ff00ff"/>
<circle cx="734.3" cy="42.3" r="6.1" fill="#ff00ff"/>
<circle cx="764.2" cy="46.1" r="6.1" fill="#ff00ff"/>
<circle cx="796.1" cy="50.7" r="6.1" fill="#ff00ff"/>
<circle cx="828.2" cy="56.2" r="6.1" fill="#ff00ff"/>
<circle cx="861.4" cy="62.7" r="6.1" fill="#ff00ff"/>
<circle cx="889.2" cy="70.5" r="6.1" fill="#ff00ff"/>
<circle cx="911.2" cy="79.8" r="6.1" fill="#ff00ff"/>
<circle cx="927.2" cy="91.1" r="6.1" fill="#ff00ff"/>
<circle cx="938.3" cy="104.6" r="6.1" fill="#ff00ff"/>
<circle cx="948.9" cy="120.8" r="6.1" fill="#ff00ff"/>
<circle cx="956.4" cy="140.4" r="6.1" fill="#ff00ff"/>
<circle cx="950.0" cy="163.9" r="6.1" fill="#ff00ff"/>
<circle cx="939.3" cy="192.1" r="6.1" fill="#ff00ff"/>
<circle cx="921.1" cy="225.9" r="6.1" fill="#ff00ff"/>
<circle cx="890.4" cy="266.3" r="6.1" fill="#ff00ff"/>
<circle cx="852.1" cy="314.5" r="6.1" fill="#ff00ff"/>
<circle cx="819.9" cy="371.7" r="6.1" fill="#ff00ff"/>
<circle cx="799.2" cy="439.3" r="6.1" fill="#ff00ff"/>
<circle cx="788.2" cy="518.9" r="6.1" fill="#ff00ff"/>
<circle cx="780.4" cy="611.8" r="6.1" fill="#ff00ff"/>
<circle cx="782.9" cy="719.7" r="6.1" fill="#ff00ff"/>
</g>
<rect x="594.4" y="19.4" width="381.1" height="783.9" fill="none" stroke="#000" stroke-width="1.35"/>
<path d="M641.50,803.3v5.9M718.73,803.3v5.9M795.95,803.3v5.9M873.17,803.3v5.9M950.40,803.3v5.9M594.4,19.40h-5.9M594.4,97.01h-5.9M594.4,174.62h-5.9M594.4,252.23h-5.9M594.4,329.84h-5.9M594.4,407.45h-5.9M594.4,485.06h-5.9M594.4,562.67h-5.9M594.4,640.28h-5.9M594.4,717.89h-5.9M594.4,795.50h-5.9" stroke="#000" stroke-width="1.35" fill="none"/>
<text x="641.50" y="830.00" font-size="17.85" text-anchor="middle" textLength="21.63" lengthAdjust="spacingAndGlyphs" >33</text>
<text x="718.73" y="830.00" font-size="17.85" text-anchor="middle" textLength="21.63" lengthAdjust="spacingAndGlyphs" >34</text>
<text x="795.95" y="830.00" font-size="17.85" text-anchor="middle" textLength="21.63" lengthAdjust="spacingAndGlyphs" >35</text>
<text x="873.17" y="830.00" font-size="17.85" text-anchor="middle" textLength="21.63" lengthAdjust="spacingAndGlyphs" >36</text>
<text x="950.40" y="830.00" font-size="17.85" text-anchor="middle" textLength="21.63" lengthAdjust="spacingAndGlyphs" >37</text>
<path d="M1103.40,19.4V803.3M1161.40,19.4V803.3M1219.40,19.4V803.3M1277.40,19.4V803.3M1335.40,19.4V803.3M1393.40,19.4V803.3M1451.40,19.4V803.3M1089.6,19.40H1471.6M1089.6,97.01H1471.6M1089.6,174.62H1471.6M1089.6,252.23H1471.6M1089.6,329.84H1471.6M1089.6,407.45H1471.6M1089.6,485.06H1471.6M1089.6,562.67H1471.6M1089.6,640.28H1471.6M1089.6,717.89H1471.6M1089.6,795.50H1471.6" stroke="#b0b0b0" stroke-width="0.85" stroke-dasharray="3.1,1.35" fill="none"/>
<g clip-path="url(#c2)">
<polyline points="1104.0,20.9 1119.1,30.8 1140.5,49.0 1162.0,60.8 1183.4,70.4 1204.8,81.1 1226.2,97.2 1247.6,110.0 1269.0,125.0 1290.7,143.3" fill="none" stroke="#00ffff" stroke-width="12.5" stroke-linejoin="round" stroke-linecap="round"/>
<polyline points="1106.0,19.4 1121.1,29.3 1142.5,47.5 1164.0,59.3 1185.4,68.9 1206.8,79.6 1228.2,95.7 1249.6,108.5 1271.0,123.5 1292.7,141.8 1310.9,174.5 1325.5,210.9 1338.2,265.5 1352.7,320.0 1369.1,392.7 1383.6,459.6 1403.6,562.8" fill="none" stroke="#0000ff" stroke-width="2.6" stroke-linejoin="round"/>
<path d="M1100.2,19.4a5.8,5.8 0 1,0 11.6,0a5.8,5.8 0 1,0 -11.6,0M1107.2,24.0a5.8,5.8 0 1,0 11.6,0a5.8,5.8 0 1,0 -11.6,0M1114.2,28.6a5.8,5.8 0 1,0 11.6,0a5.8,5.8 0 1,0 -11.6,0M1119.9,33.2a5.8,5.8 0 1,0 11.6,0a5.8,5.8 0 1,0 -11.6,0M1125.3,37.8a5.8,5.8 0 1,0 11.6,0a5.8,5.8 0 1,0 -11.6,0M1130.7,42.4a5.8,5.8 0 1,0 11.6,0a5.8,5.8 0 1,0 -11.6,0M1136.1,47.0a5.8,5.8 0 1,0 11.6,0a5.8,5.8 0 1,0 -11.6,0M1144.2,51.6a5.8,5.8 0 1,0 11.6,0a5.8,5.8 0 1,0 -11.6,0M1152.6,56.2a5.8,5.8 0 1,0 11.6,0a5.8,5.8 0 1,0 -11.6,0M1161.5,60.8a5.8,5.8 0 1,0 11.6,0a5.8,5.8 0 1,0 -11.6,0M1171.8,65.4a5.8,5.8 0 1,0 11.6,0a5.8,5.8 0 1,0 -11.6,0M1181.8,70.0a5.8,5.8 0 1,0 11.6,0a5.8,5.8 0 1,0 -11.6,0M1191.0,74.6a5.8,5.8 0 1,0 11.6,0a5.8,5.8 0 1,0 -11.6,0M1200.2,79.2a5.8,5.8 0 1,0 11.6,0a5.8,5.8 0 1,0 -11.6,0M1206.6,83.8a5.8,5.8 0 1,0 11.6,0a5.8,5.8 0 1,0 -11.6,0M1212.7,88.4a5.8,5.8 0 1,0 11.6,0a5.8,5.8 0 1,0 -11.6,0M1218.8,93.0a5.8,5.8 0 1,0 11.6,0a5.8,5.8 0 1,0 -11.6,0M1225.6,97.6a5.8,5.8 0 1,0 11.6,0a5.8,5.8 0 1,0 -11.6,0M1233.3,102.2a5.8,5.8 0 1,0 11.6,0a5.8,5.8 0 1,0 -11.6,0M1241.0,106.8a5.8,5.8 0 1,0 11.6,0a5.8,5.8 0 1,0 -11.6,0M1247.9,111.4a5.8,5.8 0 1,0 11.6,0a5.8,5.8 0 1,0 -11.6,0M1254.5,116.0a5.8,5.8 0 1,0 11.6,0a5.8,5.8 0 1,0 -11.6,0M1261.1,120.6a5.8,5.8 0 1,0 11.6,0a5.8,5.8 0 1,0 -11.6,0M1267.2,125.2a5.8,5.8 0 1,0 11.6,0a5.8,5.8 0 1,0 -11.6,0M1272.7,129.8a5.8,5.8 0 1,0 11.6,0a5.8,5.8 0 1,0 -11.6,0M1278.1,134.4a5.8,5.8 0 1,0 11.6,0a5.8,5.8 0 1,0 -11.6,0M1283.6,139.0a5.8,5.8 0 1,0 11.6,0a5.8,5.8 0 1,0 -11.6,0M1287.9,143.6a5.8,5.8 0 1,0 11.6,0a5.8,5.8 0 1,0 -11.6,0M1290.5,148.2a5.8,5.8 0 1,0 11.6,0a5.8,5.8 0 1,0 -11.6,0M1293.0,152.8a5.8,5.8 0 1,0 11.6,0a5.8,5.8 0 1,0 -11.6,0M1295.6,157.4a5.8,5.8 0 1,0 11.6,0a5.8,5.8 0 1,0 -11.6,0M1298.1,162.0a5.8,5.8 0 1,0 11.6,0a5.8,5.8 0 1,0 -11.6,0M1300.7,166.6a5.8,5.8 0 1,0 11.6,0a5.8,5.8 0 1,0 -11.6,0M1303.3,171.2a5.8,5.8 0 1,0 11.6,0a5.8,5.8 0 1,0 -11.6,0M1305.6,175.8a5.8,5.8 0 1,0 11.6,0a5.8,5.8 0 1,0 -11.6,0M1307.5,180.4a5.8,5.8 0 1,0 11.6,0a5.8,5.8 0 1,0 -11.6,0M1309.3,185.0a5.8,5.8 0 1,0 11.6,0a5.8,5.8 0 1,0 -11.6,0M1311.2,189.6a5.8,5.8 0 1,0 11.6,0a5.8,5.8 0 1,0 -11.6,0M1313.0,194.2a5.8,5.8 0 1,0 11.6,0a5.8,5.8 0 1,0 -11.6,0M1314.8,198.8a5.8,5.8 0 1,0 11.6,0a5.8,5.8 0 1,0 -11.6,0M1316.7,203.4a5.8,5.8 0 1,0 11.6,0a5.8,5.8 0 1,0 -11.6,0M1318.5,208.0a5.8,5.8 0 1,0 11.6,0a5.8,5.8 0 1,0 -11.6,0M1320.1,212.6a5.8,5.8 0 1,0 11.6,0a5.8,5.8 0 1,0 -11.6,0M1321.2,217.2a5.8,5.8 0 1,0 11.6,0a5.8,5.8 0 1,0 -11.6,0M1322.2,221.8a5.8,5.8 0 1,0 11.6,0a5.8,5.8 0 1,0 -11.6,0M1323.3,226.4a5.8,5.8 0 1,0 11.6,0a5.8,5.8 0 1,0 -11.6,0M1324.4,231.0a5.8,5.8 0 1,0 11.6,0a5.8,5.8 0 1,0 -11.6,0M1325.4,235.6a5.8,5.8 0 1,0 11.6,0a5.8,5.8 0 1,0 -11.6,0M1326.5,240.2a5.8,5.8 0 1,0 11.6,0a5.8,5.8 0 1,0 -11.6,0M1327.6,244.8a5.8,5.8 0 1,0 11.6,0a5.8,5.8 0 1,0 -11.6,0M1328.7,249.4a5.8,5.8 0 1,0 11.6,0a5.8,5.8 0 1,0 -11.6,0M1329.7,254.0a5.8,5.8 0 1,0 11.6,0a5.8,5.8 0 1,0 -11.6,0M1330.8,258.6a5.8,5.8 0 1,0 11.6,0a5.8,5.8 0 1,0 -11.6,0M1331.9,263.2a5.8,5.8 0 1,0 11.6,0a5.8,5.8 0 1,0 -11.6,0M1333.0,267.8a5.8,5.8 0 1,0 11.6,0a5.8,5.8 0 1,0 -11.6,0M1334.2,272.4a5.8,5.8 0 1,0 11.6,0a5.8,5.8 0 1,0 -11.6,0M1335.5,277.0a5.8,5.8 0 1,0 11.6,0a5.8,5.8 0 1,0 -11.6,0M1336.7,281.6a5.8,5.8 0 1,0 11.6,0a5.8,5.8 0 1,0 -11.6,0M1337.9,286.2a5.8,5.8 0 1,0 11.6,0a5.8,5.8 0 1,0 -11.6,0M1339.1,290.8a5.8,5.8 0 1,0 11.6,0a5.8,5.8 0 1,0 -11.6,0M1340.4,295.4a5.8,5.8 0 1,0 11.6,0a5.8,5.8 0 1,0 -11.6,0M1341.6,300.0a5.8,5.8 0 1,0 11.6,0a5.8,5.8 0 1,0 -11.6,0M1342.8,304.6a5.8,5.8 0 1,0 11.6,0a5.8,5.8 0 1,0 -11.6,0M1344.0,309.2a5.8,5.8 0 1,0 11.6,0a5.8,5.8 0 1,0 -11.6,0M1345.3,313.8a5.8,5.8 0 1,0 11.6,0a5.8,5.8 0 1,0 -11.6,0M1346.5,318.4a5.8,5.8 0 1,0 11.6,0a5.8,5.8 0 1,0 -11.6,0M1347.6,323.0a5.8,5.8 0 1,0 11.6,0a5.8,5.8 0 1,0 -11.6,0M1348.6,327.6a5.8,5.8 0 1,0 11.6,0a5.8,5.8 0 1,0 -11.6,0M1349.7,332.2a5.8,5.8 0 1,0 11.6,0a5.8,5.8 0 1,0 -11.6,0M1350.7,336.8a5.8,5.8 0 1,0 11.6,0a5.8,5.8 0 1,0 -11.6,0M1351.7,341.4a5.8,5.8 0 1,0 11.6,0a5.8,5.8 0 1,0 -11.6,0M1352.8,346.0a5.8,5.8 0 1,0 11.6,0a5.8,5.8 0 1,0 -11.6,0M1353.8,350.6a5.8,5.8 0 1,0 11.6,0a5.8,5.8 0 1,0 -11.6,0M1354.8,355.2a5.8,5.8 0 1,0 11.6,0a5.8,5.8 0 1,0 -11.6,0M1355.9,359.8a5.8,5.8 0 1,0 11.6,0a5.8,5.8 0 1,0 -11.6,0M1356.9,364.4a5.8,5.8 0 1,0 11.6,0a5.8,5.8 0 1,0 -11.6,0M1358.0,369.0a5.8,5.8 0 1,0 11.6,0a5.8,5.8 0 1,0 -11.6,0M1359.0,373.6a5.8,5.8 0 1,0 11.6,0a5.8,5.8 0 1,0 -11.6,0M1360.0,378.2a5.8,5.8 0 1,0 11.6,0a5.8,5.8 0 1,0 -11.6,0M1361.1,382.8a5.8,5.8 0 1,0 11.6,0a5.8,5.8 0 1,0 -11.6,0M1362.1,387.4a5.8,5.8 0 1,0 11.6,0a5.8,5.8 0 1,0 -11.6,0M1363.1,392.0a5.8,5.8 0 1,0 11.6,0a5.8,5.8 0 1,0 -11.6,0M1364.1,396.6a5.8,5.8 0 1,0 11.6,0a5.8,5.8 0 1,0 -11.6,0M1365.1,401.2a5.8,5.8 0 1,0 11.6,0a5.8,5.8 0 1,0 -11.6,0M1366.1,405.8a5.8,5.8 0 1,0 11.6,0a5.8,5.8 0 1,0 -11.6,0M1367.1,410.4a5.8,5.8 0 1,0 11.6,0a5.8,5.8 0 1,0 -11.6,0M1368.1,415.0a5.8,5.8 0 1,0 11.6,0a5.8,5.8 0 1,0 -11.6,0M1369.1,419.6a5.8,5.8 0 1,0 11.6,0a5.8,5.8 0 1,0 -11.6,0M1370.1,424.2a5.8,5.8 0 1,0 11.6,0a5.8,5.8 0 1,0 -11.6,0M1371.1,428.8a5.8,5.8 0 1,0 11.6,0a5.8,5.8 0 1,0 -11.6,0M1372.1,433.4a5.8,5.8 0 1,0 11.6,0a5.8,5.8 0 1,0 -11.6,0M1373.1,438.0a5.8,5.8 0 1,0 11.6,0a5.8,5.8 0 1,0 -11.6,0M1374.1,442.6a5.8,5.8 0 1,0 11.6,0a5.8,5.8 0 1,0 -11.6,0M1375.1,447.2a5.8,5.8 0 1,0 11.6,0a5.8,5.8 0 1,0 -11.6,0M1376.1,451.8a5.8,5.8 0 1,0 11.6,0a5.8,5.8 0 1,0 -11.6,0M1377.1,456.4a5.8,5.8 0 1,0 11.6,0a5.8,5.8 0 1,0 -11.6,0M1378.1,461.0a5.8,5.8 0 1,0 11.6,0a5.8,5.8 0 1,0 -11.6,0M1379.0,465.6a5.8,5.8 0 1,0 11.6,0a5.8,5.8 0 1,0 -11.6,0M1379.9,470.2a5.8,5.8 0 1,0 11.6,0a5.8,5.8 0 1,0 -11.6,0M1380.7,474.8a5.8,5.8 0 1,0 11.6,0a5.8,5.8 0 1,0 -11.6,0M1381.6,479.4a5.8,5.8 0 1,0 11.6,0a5.8,5.8 0 1,0 -11.6,0M1382.5,484.0a5.8,5.8 0 1,0 11.6,0a5.8,5.8 0 1,0 -11.6,0M1383.4,488.6a5.8,5.8 0 1,0 11.6,0a5.8,5.8 0 1,0 -11.6,0M1384.3,493.2a5.8,5.8 0 1,0 11.6,0a5.8,5.8 0 1,0 -11.6,0M1385.2,497.8a5.8,5.8 0 1,0 11.6,0a5.8,5.8 0 1,0 -11.6,0M1386.1,502.4a5.8,5.8 0 1,0 11.6,0a5.8,5.8 0 1,0 -11.6,0M1387.0,507.0a5.8,5.8 0 1,0 11.6,0a5.8,5.8 0 1,0 -11.6,0M1387.9,511.6a5.8,5.8 0 1,0 11.6,0a5.8,5.8 0 1,0 -11.6,0M1388.8,516.2a5.8,5.8 0 1,0 11.6,0a5.8,5.8 0 1,0 -11.6,0M1389.7,520.8a5.8,5.8 0 1,0 11.6,0a5.8,5.8 0 1,0 -11.6,0M1390.6,525.4a5.8,5.8 0 1,0 11.6,0a5.8,5.8 0 1,0 -11.6,0M1391.4,530.0a5.8,5.8 0 1,0 11.6,0a5.8,5.8 0 1,0 -11.6,0M1392.3,534.6a5.8,5.8 0 1,0 11.6,0a5.8,5.8 0 1,0 -11.6,0M1393.2,539.2a5.8,5.8 0 1,0 11.6,0a5.8,5.8 0 1,0 -11.6,0M1394.1,543.8a5.8,5.8 0 1,0 11.6,0a5.8,5.8 0 1,0 -11.6,0M1395.0,548.4a5.8,5.8 0 1,0 11.6,0a5.8,5.8 0 1,0 -11.6,0M1395.9,553.0a5.8,5.8 0 1,0 11.6,0a5.8,5.8 0 1,0 -11.6,0M1396.8,557.6a5.8,5.8 0 1,0 11.6,0a5.8,5.8 0 1,0 -11.6,0M1397.7,562.2a5.8,5.8 0 1,0 11.6,0a5.8,5.8 0 1,0 -11.6,0" fill="#0000ff"/>
<polyline points="1245.6,111.5 1267.0,126.5 1288.7,144.8 1306.9,177.5 1321.5,213.9 1334.2,268.5 1348.7,323.0" fill="none" stroke="#0000ff" stroke-width="10" stroke-linejoin="round" stroke-linecap="round"/>
<polyline points="1135.5,19.4 1135.5,21.0 1135.5,22.5 1136.0,24.1 1136.0,25.6 1136.5,27.2 1136.5,28.7 1137.0,31.0 1141.0,34.9 1148.0,38.8 1157.0,42.7 1166.0,46.6 1175.0,50.4 1182.5,54.3 1190.0,58.2 1200.0,66.0 1212.0,73.7 1222.5,81.5 1230.5,89.2 1237.0,97.0 1258.0,116.4 1280.0,135.8 1308.0,174.6 1322.0,213.4 1334.0,252.2 1345.0,291.0 1354.0,329.8 1372.0,407.4 1389.5,485.1 1404.5,562.7" fill="none" stroke="#ff0000" stroke-width="2.6" stroke-linejoin="round" stroke-linecap="round"/>
<polyline points="1404.5,562.7 1421.0,640.3 1438.0,717.9 1455.5,795.5" fill="none" stroke="#ff0000" stroke-width="7.5" stroke-linejoin="round" stroke-linecap="round"/>
<circle cx="1135.5" cy="19.4" r="6.3" fill="#ff0000"/>
<circle cx="1135.5" cy="21.0" r="6.3" fill="#ff0000"/>
<circle cx="1135.5" cy="22.5" r="6.3" fill="#ff0000"/>
<circle cx="1136.0" cy="24.1" r="6.3" fill="#ff0000"/>
<circle cx="1136.0" cy="25.6" r="6.3" fill="#ff0000"/>
<circle cx="1136.5" cy="27.2" r="6.3" fill="#ff0000"/>
<circle cx="1136.5" cy="28.7" r="6.3" fill="#ff0000"/>
<circle cx="1137.0" cy="31.0" r="6.3" fill="#ff0000"/>
<circle cx="1141.0" cy="34.9" r="6.3" fill="#ff0000"/>
<circle cx="1148.0" cy="38.8" r="6.3" fill="#ff0000"/>
<circle cx="1157.0" cy="42.7" r="6.3" fill="#ff0000"/>
<circle cx="1166.0" cy="46.6" r="6.3" fill="#ff0000"/>
<circle cx="1175.0" cy="50.4" r="6.3" fill="#ff0000"/>
<circle cx="1182.5" cy="54.3" r="6.3" fill="#ff0000"/>
<circle cx="1190.0" cy="58.2" r="6.3" fill="#ff0000"/>
<circle cx="1200.0" cy="66.0" r="6.3" fill="#ff0000"/>
<circle cx="1212.0" cy="73.7" r="6.3" fill="#ff0000"/>
<circle cx="1222.5" cy="81.5" r="6.3" fill="#ff0000"/>
<circle cx="1230.5" cy="89.2" r="6.3" fill="#ff0000"/>
<circle cx="1237.0" cy="97.0" r="6.3" fill="#ff0000"/>
<circle cx="1258.0" cy="116.4" r="6.3" fill="#ff0000"/>
<circle cx="1280.0" cy="135.8" r="6.3" fill="#ff0000"/>
<circle cx="1308.0" cy="174.6" r="6.3" fill="#ff0000"/>
<circle cx="1322.0" cy="213.4" r="6.3" fill="#ff0000"/>
<circle cx="1334.0" cy="252.2" r="6.3" fill="#ff0000"/>
<circle cx="1345.0" cy="291.0" r="6.3" fill="#ff0000"/>
<circle cx="1354.0" cy="329.8" r="6.3" fill="#ff0000"/>
<circle cx="1372.0" cy="407.4" r="6.3" fill="#ff0000"/>
<circle cx="1389.5" cy="485.1" r="6.3" fill="#ff0000"/>
<circle cx="1404.5" cy="562.7" r="6.3" fill="#ff0000"/>
<circle cx="1421.0" cy="640.3" r="6.3" fill="#ff0000"/>
<circle cx="1438.0" cy="717.9" r="6.3" fill="#ff0000"/>
<circle cx="1455.5" cy="795.5" r="6.3" fill="#ff0000"/>
<polyline points="1135.0,19.4 1135.0,21.0 1135.0,22.5 1135.5,24.1 1135.5,25.6 1136.0,27.2 1136.0,28.7 1137.0,31.0 1142.0,34.9 1149.0,38.8 1158.6,42.7 1168.2,46.6 1176.8,50.4 1184.3,54.3 1191.8,58.2 1201.4,66.0 1213.2,73.7 1223.9,81.5 1231.0,89.2 1236.8,97.0 1255.0,116.4 1272.1,135.8 1305.5,174.6 1320.0,213.4 1332.7,252.2 1343.6,291.0 1352.7,329.8 1370.9,407.4 1388.5,485.1 1405.5,562.7 1421.4,640.3 1438.4,717.9 1455.0,795.5" fill="none" stroke="#008000" stroke-width="2.6" stroke-linejoin="round"/>
<circle cx="1135.0" cy="19.4" r="6.1" fill="#008000"/>
<circle cx="1135.0" cy="21.0" r="6.1" fill="#008000"/>
<circle cx="1135.0" cy="22.5" r="6.1" fill="#008000"/>
<circle cx="1135.5" cy="24.1" r="6.1" fill="#008000"/>
<circle cx="1135.5" cy="25.6" r="6.1" fill="#008000"/>
<circle cx="1136.0" cy="27.2" r="6.1" fill="#008000"/>
<circle cx="1136.0" cy="28.7" r="6.1" fill="#008000"/>
<circle cx="1137.0" cy="31.0" r="6.1" fill="#008000"/>
<circle cx="1142.0" cy="34.9" r="6.1" fill="#008000"/>
<circle cx="1149.0" cy="38.8" r="6.1" fill="#008000"/>
<circle cx="1158.6" cy="42.7" r="6.1" fill="#008000"/>
<circle cx="1168.2" cy="46.6" r="6.1" fill="#008000"/>
<circle cx="1176.8" cy="50.4" r="6.1" fill="#008000"/>
<circle cx="1184.3" cy="54.3" r="6.1" fill="#008000"/>
<circle cx="1191.8" cy="58.2" r="6.1" fill="#008000"/>
<circle cx="1201.4" cy="66.0" r="6.1" fill="#008000"/>
<circle cx="1213.2" cy="73.7" r="6.1" fill="#008000"/>
<circle cx="1223.9" cy="81.5" r="6.1" fill="#008000"/>
<circle cx="1231.0" cy="89.2" r="6.1" fill="#008000"/>
<circle cx="1236.8" cy="97.0" r="6.1" fill="#008000"/>
<circle cx="1255.0" cy="116.4" r="6.1" fill="#008000"/>
<circle cx="1272.1" cy="135.8" r="6.1" fill="#008000"/>
<circle cx="1305.5" cy="174.6" r="6.1" fill="#008000"/>
<circle cx="1320.0" cy="213.4" r="6.1" fill="#008000"/>
<circle cx="1332.7" cy="252.2" r="6.1" fill="#008000"/>
<circle cx="1343.6" cy="291.0" r="6.1" fill="#008000"/>
<circle cx="1352.7" cy="329.8" r="6.1" fill="#008000"/>
<circle cx="1370.9" cy="407.4" r="6.1" fill="#008000"/>
<circle cx="1388.5" cy="485.1" r="6.1" fill="#008000"/>
<circle cx="1405.5" cy="562.7" r="6.1" fill="#008000"/>
<circle cx="1421.4" cy="640.3" r="6.1" fill="#008000"/>
<circle cx="1438.4" cy="717.9" r="6.1" fill="#008000"/>
<circle cx="1455.0" cy="795.5" r="6.1" fill="#008000"/>
<polyline points="1108.0,19.8 1109.0,20.6 1110.0,21.5 1111.0,22.4 1112.0,23.3 1113.5,24.4 1115.0,25.6 1117.0,26.8 1119.0,28.3 1121.0,29.9 1123.0,31.7 1126.0,33.8 1129.0,36.2 1133.0,39.0 1138.3,42.3 1149.0,46.1 1159.7,50.7 1174.7,56.2 1188.6,62.7 1204.6,70.5 1218.5,79.8 1229.3,91.1 1240.0,104.6 1252.8,120.8 1272.1,140.4 1290.0,163.9 1308.4,192.1 1321.8,225.9 1335.3,266.3 1349.1,314.5 1364.4,371.7 1379.3,439.3 1396.8,518.9 1417.4,611.8 1440.4,719.7" fill="none" stroke="#ff00ff" stroke-width="2.6" stroke-linejoin="round"/>
<circle cx="1108.0" cy="19.8" r="6.1" fill="#ff00ff"/>
<circle cx="1109.0" cy="20.6" r="6.1" fill="#ff00ff"/>
<circle cx="1110.0" cy="21.5" r="6.1" fill="#ff00ff"/>
<circle cx="1111.0" cy="22.4" r="6.1" fill="#ff00ff"/>
<circle cx="1112.0" cy="23.3" r="6.1" fill="#ff00ff"/>
<circle cx="1113.5" cy="24.4" r="6.1" fill="#ff00ff"/>
<circle cx="1115.0" cy="25.6" r="6.1" fill="#ff00ff"/>
<circle cx="1117.0" cy="26.8" r="6.1" fill="#ff00ff"/>
<circle cx="1119.0" cy="28.3" r="6.1" fill="#ff00ff"/>
<circle cx="1121.0" cy="29.9" r="6.1" fill="#ff00ff"/>
<circle cx="1123.0" cy="31.7" r="6.1" fill="#ff00ff"/>
<circle cx="1126.0" cy="33.8" r="6.1" fill="#ff00ff"/>
<circle cx="1129.0" cy="36.2" r="6.1" fill="#ff00ff"/>
<circle cx="1133.0" cy="39.0" r="6.1" fill="#ff00ff"/>
<circle cx="1138.3" cy="42.3" r="6.1" fill="#ff00ff"/>
<circle cx="1149.0" cy="46.1" r="6.1" fill="#ff00ff"/>
<circle cx="1159.7" cy="50.7" r="6.1" fill="#ff00ff"/>
<circle cx="1174.7" cy="56.2" r="6.1" fill="#ff00ff"/>
<circle cx="1188.6" cy="62.7" r="6.1" fill="#ff00ff"/>
<circle cx="1204.6" cy="70.5" r="6.1" fill="#ff00ff"/>
<circle cx="1218.5" cy="79.8" r="6.1" fill="#ff00ff"/>
<circle cx="1229.3" cy="91.1" r="6.1" fill="#ff00ff"/>
<circle cx="1240.0" cy="104.6" r="6.1" fill="#ff00ff"/>
<circle cx="1252.8" cy="120.8" r="6.1" fill="#ff00ff"/>
<circle cx="1272.1" cy="140.4" r="6.1" fill="#ff00ff"/>
<circle cx="1290.0" cy="163.9" r="6.1" fill="#ff00ff"/>
<circle cx="1308.4" cy="192.1" r="6.1" fill="#ff00ff"/>
<circle cx="1321.8" cy="225.9" r="6.1" fill="#ff00ff"/>
<circle cx="1335.3" cy="266.3" r="6.1" fill="#ff00ff"/>
<circle cx="1349.1" cy="314.5" r="6.1" fill="#ff00ff"/>
<circle cx="1364.4" cy="371.7" r="6.1" fill="#ff00ff"/>
<circle cx="1379.3" cy="439.3" r="6.1" fill="#ff00ff"/>
<circle cx="1396.8" cy="518.9" r="6.1" fill="#ff00ff"/>
<circle cx="1417.4" cy="611.8" r="6.1" fill="#ff00ff"/>
<circle cx="1440.4" cy="719.7" r="6.1" fill="#ff00ff"/>
</g>
<rect x="1089.6" y="19.4" width="382.0" height="783.9" fill="none" stroke="#000" stroke-width="1.35"/>
<path d="M1103.40,803.3v5.9M1161.40,803.3v5.9M1219.40,803.3v5.9M1277.40,803.3v5.9M1335.40,803.3v5.9M1393.40,803.3v5.9M1451.40,803.3v5.9M1089.6,19.40h-5.9M1089.6,97.01h-5.9M1089.6,174.62h-5.9M1089.6,252.23h-5.9M1089.6,329.84h-5.9M1089.6,407.45h-5.9M1089.6,485.06h-5.9M1089.6,562.67h-5.9M1089.6,640.28h-5.9M1089.6,717.89h-5.9M1089.6,795.50h-5.9" stroke="#000" stroke-width="1.35" fill="none"/>
<g transform="translate(1102.40,838.5) rotate(-45)">
<text x="0.00" y="6.20" font-size="17.85" text-anchor="middle" textLength="43.26" lengthAdjust="spacingAndGlyphs" >1020</text>
</g>
<g transform="translate(1160.40,838.5) rotate(-45)">
<text x="0.00" y="6.20" font-size="17.85" text-anchor="middle" textLength="43.26" lengthAdjust="spacingAndGlyphs" >1022</text>
</g>
<g transform="translate(1218.40,838.5) rotate(-45)">
<text x="0.00" y="6.20" font-size="17.85" text-anchor="middle" textLength="43.26" lengthAdjust="spacingAndGlyphs" >1024</text>
</g>
<g transform="translate(1276.40,838.5) rotate(-45)">
<text x="0.00" y="6.20" font-size="17.85" text-anchor="middle" textLength="43.26" lengthAdjust="spacingAndGlyphs" >1026</text>
</g>
<g transform="translate(1334.40,838.5) rotate(-45)">
<text x="0.00" y="6.20" font-size="17.85" text-anchor="middle" textLength="43.26" lengthAdjust="spacingAndGlyphs" >1028</text>
</g>
<g transform="translate(1392.40,838.5) rotate(-45)">
<text x="0.00" y="6.20" font-size="17.85" text-anchor="middle" textLength="43.26" lengthAdjust="spacingAndGlyphs" >1030</text>
</g>
<g transform="translate(1450.40,838.5) rotate(-45)">
<text x="0.00" y="6.20" font-size="17.85" text-anchor="middle" textLength="43.26" lengthAdjust="spacingAndGlyphs" >1032</text>
</g>
<text x="180.60" y="859.70" font-size="23.73" text-anchor="start" font-weight="bold" textLength="180.76" lengthAdjust="spacingAndGlyphs" >Temperature (</text>
<text x="362.60" y="850.50" font-size="16.61" text-anchor="start" font-style="italic" textLength="9.68" lengthAdjust="spacingAndGlyphs" >o</text>
<text x="373.00" y="859.70" font-size="23.73" text-anchor="start" font-style="italic" textLength="15.78" lengthAdjust="spacingAndGlyphs" >C</text>
<text x="389.00" y="859.70" font-size="23.73" text-anchor="start" font-weight="bold" textLength="10.33" lengthAdjust="spacingAndGlyphs" >)</text>
<text x="785.00" y="858.60" font-size="23.73" text-anchor="middle" font-weight="bold" textLength="96.39" lengthAdjust="spacingAndGlyphs" >Salinity</text>
<text x="1279.60" y="884.80" font-size="23.73" text-anchor="middle" font-weight="bold" textLength="213.17" lengthAdjust="spacingAndGlyphs" >Density (kg m-3)</text>
<g transform="translate(29.1,411.9) rotate(-90)">
<text x="0.00" y="0.00" font-size="23.73" text-anchor="middle" font-weight="bold" textLength="129.23" lengthAdjust="spacingAndGlyphs" >Depth (m)</text>
</g>
<text x="1546.10" y="36.20" font-size="23.73" text-anchor="start" font-weight="bold" textLength="380.53" lengthAdjust="spacingAndGlyphs" >Comparison Date: 2025-09-20</text>
<text x="1546.10" y="89.50" font-size="23.73" text-anchor="start" font-weight="bold" textLength="175.60" lengthAdjust="spacingAndGlyphs" >Glider: SG678</text>
<text x="1546.10" y="116.10" font-size="23.73" text-anchor="start" font-weight="bold" textLength="144.87" lengthAdjust="spacingAndGlyphs" >Profiles: 12</text>
<text x="1546.10" y="142.70" font-size="23.73" text-anchor="start" font-weight="bold" textLength="340.35" lengthAdjust="spacingAndGlyphs" >First: 2025-09-20 00:18:27</text>
<text x="1546.10" y="169.30" font-size="23.73" text-anchor="start" font-weight="bold" textLength="335.67" lengthAdjust="spacingAndGlyphs" >Last: 2025-09-20 22:09:35</text>
<text x="1546.10" y="195.90" font-size="23.73" text-anchor="start" font-weight="bold" textLength="340.03" lengthAdjust="spacingAndGlyphs" >Method: Nearest-Neighbor</text>
<rect x="1693.15" y="637.15" width="163.8" height="143" rx="4.5" ry="4.5" fill="#fff" fill-opacity="0.8" stroke="#cccccc" stroke-width="1.3"/>
<path d="M1701.1,656.4H1748.9" stroke="#0000ff" stroke-width="3"/>
<circle cx="1724.5" cy="656.4" r="5.9" fill="#0000ff"/>
<text x="1765.70" y="664.60" font-size="23.73" text-anchor="start" textLength="75.00" lengthAdjust="spacingAndGlyphs" >SG678</text>
<path d="M1701.1,690.7H1748.9" stroke="#ff0000" stroke-width="3"/>
<circle cx="1724.5" cy="690.7" r="5.9" fill="#ff0000"/>
<text x="1765.70" y="698.90" font-size="23.73" text-anchor="start" textLength="72.60" lengthAdjust="spacingAndGlyphs" >RTOFS</text>
<path d="M1701.1,724.9H1748.9" stroke="#008000" stroke-width="3"/>
<circle cx="1724.5" cy="724.9" r="5.9" fill="#008000"/>
<text x="1765.70" y="733.10" font-size="23.73" text-anchor="start" textLength="58.03" lengthAdjust="spacingAndGlyphs" >ESPC</text>
<path d="M1701.1,759.2H1748.9" stroke="#ff00ff" stroke-width="3"/>
<circle cx="1724.5" cy="759.2" r="5.9" fill="#ff00ff"/>
<text x="1765.70" y="767.40" font-size="23.73" text-anchor="start" textLength="83.40" lengthAdjust="spacingAndGlyphs" >CMEMS</text>
<text x="326.60" y="917.70" font-size="18.22" text-anchor="start" font-style="italic" textLength="924.55" lengthAdjust="spacingAndGlyphs" xml:space="preserve">Ocean Heat Content (kJ/cm^2) - Glider: 118.2532,  RTOFS: 100.5893,  ESPC: 94.6038,  CMEMS: 120.2372,</text>
<defs><clipPath id="cmap"><rect x="1584.2" y="306.1" width="382.2" height="209.8"/></clipPath></defs>
<rect x="1584.2" y="306.1" width="382.2" height="209.8" fill="#98b7e2"/>
<g clip-path="url(#cmap)">
<path d="M1634.2,327.0L1641.0,319.5L1647.7,315.0L1659.0,311.2L1666.5,309.7L1677.7,309.7L1683.7,308.6L1692.7,310.5L1700.2,314.2L1711.2,317.2L1721.0,321.7L1728.5,329.2L1737.5,335.2L1748.0,338.2L1748.7,342.0L1758.5,344.2L1765.2,347.2L1766.7,349.5L1764.5,351.0L1752.5,352.5L1737.5,352.5L1724.0,353.2L1723.2,351.0L1730.0,345.0L1724.7,343.5L1715.0,335.2L1711.2,330.0L1703.7,330.0L1696.4,328.5L1690.4,325.5L1681.5,324.0L1674.0,318.7L1662.7,316.5L1655.2,320.2L1647.7,324.0L1642.5,324.7L1636.5,327.0ZM1582.2,333.0L1595.2,330.4L1606.5,330.7L1611.7,333.7L1612.5,337.5L1608.7,342.0L1605.0,348.0L1602.0,354.0L1599.7,360.0L1598.2,370.0L1596.7,377.1L1594.1,389.9L1590.3,398.0L1588.0,401.0L1582.2,402.0ZM1582.2,404.7L1591.5,406.2L1600.5,404.0L1610.2,404.7L1621.5,403.2L1632.7,403.2L1642.5,404.7L1647.7,409.2L1654.5,414.5L1654.8,421.2L1653.0,428.7L1651.5,440.0L1649.2,447.5L1648.5,458.7L1647.6,463.7L1651.6,471.0L1661.3,482.3L1672.6,490.3L1680.6,492.7L1688.7,488.7L1696.8,483.9L1701.6,483.1L1712.9,484.7L1721.0,489.5L1727.4,496.0L1733.0,496.8L1733.9,502.4L1741.1,490.3L1749.2,480.6L1751.6,471.8L1758.0,464.5L1765.1,461.7L1777.1,461.7L1785.7,455.7L1792.5,449.7L1798.5,448.0L1803.7,451.4L1801.1,455.7L1794.3,458.3L1798.5,466.8L1807.1,463.4L1814.0,460.5L1814.0,455.5L1815.0,451.5L1818.2,449.5L1821.5,451.5L1822.3,455.5L1821.0,459.5L1826.8,459.1L1835.4,462.6L1839.7,468.5L1845.7,472.0L1856.0,470.3L1865.4,471.1L1869.7,475.4L1879.1,477.1L1888.5,472.8L1896.3,471.1L1905.7,469.4L1915.0,469.0L1907.0,472.5L1912.5,478.8L1920.2,479.7L1930.5,485.7L1932.2,494.2L1937.4,495.1L1946.0,498.5L1954.5,504.5L1960.5,513.1L1961.6,517.9L1722.6,517.9L1715.3,504.8L1712.9,500.0L1706.5,495.2L1700.8,491.1L1696.8,495.2L1688.7,500.8L1695.2,508.9L1686.3,512.9L1680.6,504.8L1672.6,501.6L1660.5,498.4L1650.0,495.2L1646.8,489.5L1637.9,483.9L1633.9,482.3L1624.2,476.6L1622.6,467.7L1614.5,456.5L1609.7,450.0L1603.5,443.0L1600.5,437.0L1591.5,438.5L1582.2,437.0ZM1776.1,354.8L1782.5,350.9L1787.0,352.8L1796.0,352.8L1805.0,352.8L1817.8,356.1L1821.0,359.9L1827.4,361.2L1830.6,364.4L1837.1,367.6L1838.4,370.2L1835.1,373.4L1824.2,372.1L1814.6,373.4L1810.1,371.5L1805.0,374.7L1799.8,381.7L1797.3,379.8L1790.2,372.1L1779.3,374.7L1769.6,376.6L1763.2,372.1L1765.1,368.9L1772.8,369.5L1787.0,370.2L1788.9,368.3L1784.4,361.2L1781.8,357.3L1776.1,356.7ZM1714.9,373.2L1721.3,370.6L1734.1,371.9L1741.8,377.1L1730.3,380.9L1721.3,378.4ZM1852.5,371.5L1870.5,371.5L1869.2,377.9L1852.5,377.9ZM1922.8,468.5L1929.7,467.8L1929.7,478.0L1921.0,478.3Z" fill="#d2b48c" stroke="#000" stroke-width="2.7" stroke-linejoin="round"/>
<path d="M1798.5,472.0L1792.5,480.5L1796.8,490.0L1804.5,487.4L1805.4,480.5L1800.0,468.0ZM1906.5,471.8L1924.5,470.5L1922.0,476.5L1917.7,478.0L1912.0,478.0Z" fill="#98b7e2" stroke="#000" stroke-width="1.8"/>
<path d="M1748.7,324.0L1745.5,319.0L1745.5,313.0L1749.0,309.8L1754.0,309.5L1758.5,313.5M1762.2,324.0L1766.0,320.0L1768.0,316.5L1765.5,314.5L1772.0,317.0M1772.7,338.2L1776.0,336.0L1780.0,334.5L1782.5,331.5M1787.7,330.0L1790.0,327.0L1794.5,326.2L1798.5,328.0L1799.7,331.5L1797.5,336.0M1804.2,332.0L1803.5,335.0M1701.5,336.7L1715.0,342.0L1730.0,345.0M1650.0,325.5L1660.0,327.0L1672.0,328.5L1681.5,330.0M1921.5,446.0L1919.4,453.1" fill="none" stroke="#000" stroke-width="2" stroke-linecap="round"/>
<path d="M1614.7,448.2L1624.5,452.7L1636.5,465.0L1632.0,466.0L1620.0,458.0Z" fill="#a9b8c8" stroke="none"/>
<path d="M1659,311.2L1666.5,309.7L1677.7,309.7L1683.7,308.6L1692.7,310.5L1700.2,314.2L1711.2,317.2L1721,321.7L1728.5,329.2L1737.5,335.2" fill="none" stroke="#000" stroke-width="3.8" stroke-linejoin="round"/>
<ellipse cx="1659" cy="330" rx="3" ry="2.5" fill="#d2b48c" stroke="#000" stroke-width="1.8"/>
<path d="M1677.2,360.2a2.8,1.6 0 1,0 5.6,0a2.8,1.6 0 1,0 -5.6,0M1692.9,355.5a2.8,1.3 0 1,0 5.6,0a2.8,1.3 0 1,0 -5.6,0M1608.4,345.7a1.8,2.8 0 1,0 3.6,0a1.8,2.8 0 1,0 -3.6,0M1608.8,400.5a2.2,1.3 0 1,0 4.4,0a2.2,1.3 0 1,0 -4.4,0M1613.5,398.5a3.5,1.3 0 1,0 7.0,0a3.5,1.3 0 1,0 -7.0,0M1656.5,423.5a2.5,2.5 0 1,0 5.0,0a2.5,2.5 0 1,0 -5.0,0M1661.5,413.7a1.2,1.2 0 1,0 2.4,0a1.2,1.2 0 1,0 -2.4,0M1770.5,310.9a1.5,1 0 1,0 3.0,0a1.5,1 0 1,0 -3.0,0M1779.5,320.3a3,1.3 0 1,0 6.0,0a3,1.3 0 1,0 -6.0,0M1821.2,361.2a3,1.6 0 1,0 6.0,0a3,1.6 0 1,0 -6.0,0M1842.8,376.3a1.3,1.3 0 1,0 2.6,0a1.3,1.3 0 1,0 -2.6,0M1777.3,366.4a3.2,1.8 0 1,0 6.4,0a3.2,1.8 0 1,0 -6.4,0M1901.6,374.5a2,1.5 0 1,0 4.0,0a2,1.5 0 1,0 -4.0,0M1906.0,382.0a3,1.5 0 1,0 6.0,0a3,1.5 0 1,0 -6.0,0M1916.5,382.2a2,2.5 0 1,0 4.0,0a2,2.5 0 1,0 -4.0,0M1917.0,389.0a2,2 0 1,0 4.0,0a2,2 0 1,0 -4.0,0M1919.0,400.0a3,3.5 0 1,0 6.0,0a3,3.5 0 1,0 -6.0,0M1921.5,410.0a2.5,3.5 0 1,0 5.0,0a2.5,3.5 0 1,0 -5.0,0M1926.0,419.0a3,4 0 1,0 6.0,0a3,4 0 1,0 -6.0,0M1927.0,429.0a2.5,3.5 0 1,0 5.0,0a2.5,3.5 0 1,0 -5.0,0M1923.5,438.0a2.5,3.5 0 1,0 5.0,0a2.5,3.5 0 1,0 -5.0,0M1944.3,438.6a2.5,2.5 0 1,0 5.0,0a2.5,2.5 0 1,0 -5.0,0M1930.6,462.6a2.5,1.7 0 1,0 5.0,0a2.5,1.7 0 1,0 -5.0,0M1816.7,446.3a1.5,1.5 0 1,0 3.0,0a1.5,1.5 0 1,0 -3.0,0M1828.1,450.6a3,1.5 0 1,0 6.0,0a3,1.5 0 1,0 -6.0,0M1837.0,451.4a1.8,1.8 0 1,0 3.6,0a1.8,1.8 0 1,0 -3.6,0M1846.4,453.1a1.8,1 0 1,0 3.6,0a1.8,1 0 1,0 -3.6,0M1855.6,455.5a3,2.5 0 1,0 6.0,0a3,2.5 0 1,0 -6.0,0M1863.9,455.7a1.5,1.5 0 1,0 3.0,0a1.5,1.5 0 1,0 -3.0,0M1882.5,455.3a1.8,1.5 0 1,0 3.6,0a1.8,1.5 0 1,0 -3.6,0M1873.2,466.4a2.5,1.8 0 1,0 5.0,0a2.5,1.8 0 1,0 -5.0,0M1886.3,465.1a4,3 0 1,0 8.0,0a4,3 0 1,0 -8.0,0M1901.6,461.3a1.5,1.5 0 1,0 3.0,0a1.5,1.5 0 1,0 -3.0,0M1676.9,436.2a1.6,1.6 0 1,0 3.2,0a1.6,1.6 0 1,0 -3.2,0M1672.4,446.7a1.6,1.6 0 1,0 3.2,0a1.6,1.6 0 1,0 -3.2,0M1880.0,381.0a2.5,1.5 0 1,0 5.0,0a2.5,1.5 0 1,0 -5.0,0M1880.0,370.0a4,1.8 0 1,0 8.0,0a4,1.8 0 1,0 -8.0,0M1705.5,498.4a2.5,2.5 0 1,0 5.0,0a2.5,2.5 0 1,0 -5.0,0" fill="#000"/>
<path d="M1758.5,464.0L1757.0,475.0L1760.0,485.7L1770.3,491.7L1770.3,515.9M1850.0,515.9L1856.0,511.4L1873.1,504.5L1881.7,506.2L1890.3,502.0L1907.4,497.7L1916.0,494.2L1927.1,491.7M1916.0,494.2L1916.0,489.0L1912.0,482.0M1916.0,489.0L1919.5,483.0M1614.0,434.0L1620.0,433.0L1625.0,430.0" fill="none" stroke="#97b6e1" stroke-width="1.3"/>
<path d="M1656.0,415.2L1647.7,418.2L1636.5,418.2L1632.0,422.0L1626.0,428.0L1620.0,430.2L1612.5,432.5L1611.7,437.7M1584.2,425.0L1588.5,428.0L1599.0,430.2M1584.2,413.0L1593.7,408.5M1626.6,464.5L1638.0,466.0L1648.4,469.4M1659.7,483.9L1661.3,493.5M1730.6,502.4L1722.6,508.0M1792.5,460.0L1785.7,468.5L1781.4,477.1L1777.1,488.2L1780.6,487.4L1788.3,497.7L1788.3,508.8L1792.5,515.9M1941.7,498.5L1934.8,507.1L1934.8,515.9M1796.6,354.0L1796.6,378.5" fill="none" stroke="#000" stroke-width="1.3" stroke-dasharray="3.5,2"/>
</g>
<rect x="1584.2" y="306.1" width="382.2" height="209.8" fill="none" stroke="#000" stroke-width="1.2"/>
<path d="M1634.5,306.1v-8.7M1634.5,515.9v8.7M1696.0,306.1v-8.7M1696.0,515.9v8.7M1757.5,306.1v-8.7M1757.5,515.9v8.7M1819.0,306.1v-8.7M1819.0,515.9v8.7M1880.5,306.1v-8.7M1880.5,515.9v8.7M1942.0,306.1v-8.7M1942.0,515.9v8.7M1584.2,478.0h-8.7M1966.4,478.0h8.7M1584.2,415.8h-8.7M1966.4,415.8h8.7M1584.2,352.2h-8.7M1966.4,352.2h8.7" stroke="#000" stroke-width="3" fill="none"/>
<path d="M1585.3,306.1v-2.8M1585.3,515.9v2.8M1597.6,306.1v-2.8M1597.6,515.9v2.8M1609.9,306.1v-2.8M1609.9,515.9v2.8M1622.2,306.1v-2.8M1622.2,515.9v2.8M1646.8,306.1v-2.8M1646.8,515.9v2.8M1659.1,306.1v-2.8M1659.1,515.9v2.8M1671.4,306.1v-2.8M1671.4,515.9v2.8M1683.7,306.1v-2.8M1683.7,515.9v2.8M1708.3,306.1v-2.8M1708.3,515.9v2.8M1720.6,306.1v-2.8M1720.6,515.9v2.8M1732.9,306.1v-2.8M1732.9,515.9v2.8M1745.2,306.1v-2.8M1745.2,515.9v2.8M1769.8,306.1v-2.8M1769.8,515.9v2.8M1782.1,306.1v-2.8M1782.1,515.9v2.8M1794.4,306.1v-2.8M1794.4,515.9v2.8M1806.7,306.1v-2.8M1806.7,515.9v2.8M1831.3,306.1v-2.8M1831.3,515.9v2.8M1843.6,306.1v-2.8M1843.6,515.9v2.8M1855.9,306.1v-2.8M1855.9,515.9v2.8M1868.2,306.1v-2.8M1868.2,515.9v2.8M1892.8,306.1v-2.8M1892.8,515.9v2.8M1905.1,306.1v-2.8M1905.1,515.9v2.8M1917.4,306.1v-2.8M1917.4,515.9v2.8M1929.7,306.1v-2.8M1929.7,515.9v2.8M1954.3,306.1v-2.8M1954.3,515.9v2.8M1966.6,306.1v-2.8M1966.6,515.9v2.8M1584.2,514.8h-2.8M1966.4,514.8h2.8M1584.2,502.6h-2.8M1966.4,502.6h2.8M1584.2,490.3h-2.8M1966.4,490.3h2.8M1584.2,465.7h-2.8M1966.4,465.7h2.8M1584.2,453.3h-2.8M1966.4,453.3h2.8M1584.2,440.8h-2.8M1966.4,440.8h2.8M1584.2,428.4h-2.8M1966.4,428.4h2.8M1584.2,403.2h-2.8M1966.4,403.2h2.8M1584.2,390.6h-2.8M1966.4,390.6h2.8M1584.2,377.9h-2.8M1966.4,377.9h2.8M1584.2,365.1h-2.8M1966.4,365.1h2.8M1584.2,339.2h-2.8M1966.4,339.2h2.8M1584.2,326.2h-2.8M1966.4,326.2h2.8M1584.2,313.1h-2.8M1966.4,313.1h2.8" stroke="#000" stroke-width="1.3" fill="none"/>
<text x="1568.50" y="360.40" font-size="23.10" text-anchor="end" textLength="55.45" lengthAdjust="spacingAndGlyphs" >20°N</text>
<text x="1568.50" y="424.04" font-size="23.10" text-anchor="end" textLength="55.45" lengthAdjust="spacingAndGlyphs" >15°N</text>
<text x="1568.50" y="486.20" font-size="23.10" text-anchor="end" textLength="55.45" lengthAdjust="spacingAndGlyphs" >10°N</text>
<g transform="translate(1654.0,540.7) rotate(-45)">
<text x="0.00" y="7.80" font-size="23.10" text-anchor="end" textLength="60.75" lengthAdjust="spacingAndGlyphs" >85°W</text>
</g>
<g transform="translate(1715.5,540.7) rotate(-45)">
<text x="0.00" y="7.80" font-size="23.10" text-anchor="end" textLength="60.75" lengthAdjust="spacingAndGlyphs" >80°W</text>
</g>
<g transform="translate(1777.0,540.7) rotate(-45)">
<text x="0.00" y="7.80" font-size="23.10" text-anchor="end" textLength="60.75" lengthAdjust="spacingAndGlyphs" >75°W</text>
</g>
<g transform="translate(1838.5,540.7) rotate(-45)">
<text x="0.00" y="7.80" font-size="23.10" text-anchor="end" textLength="60.75" lengthAdjust="spacingAndGlyphs" >70°W</text>
</g>
<g transform="translate(1900.0,540.7) rotate(-45)">
<text x="0.00" y="7.80" font-size="23.10" text-anchor="end" textLength="60.75" lengthAdjust="spacingAndGlyphs" >65°W</text>
</g>
<g transform="translate(1961.5,540.7) rotate(-45)">
<text x="0.00" y="7.80" font-size="23.10" text-anchor="end" textLength="60.75" lengthAdjust="spacingAndGlyphs" >60°W</text>
</g>
<circle cx="1853.5" cy="394.3" r="4.1" fill="#ff0000" stroke="#000" stroke-width="1.4"/>
</svg></body></html>
